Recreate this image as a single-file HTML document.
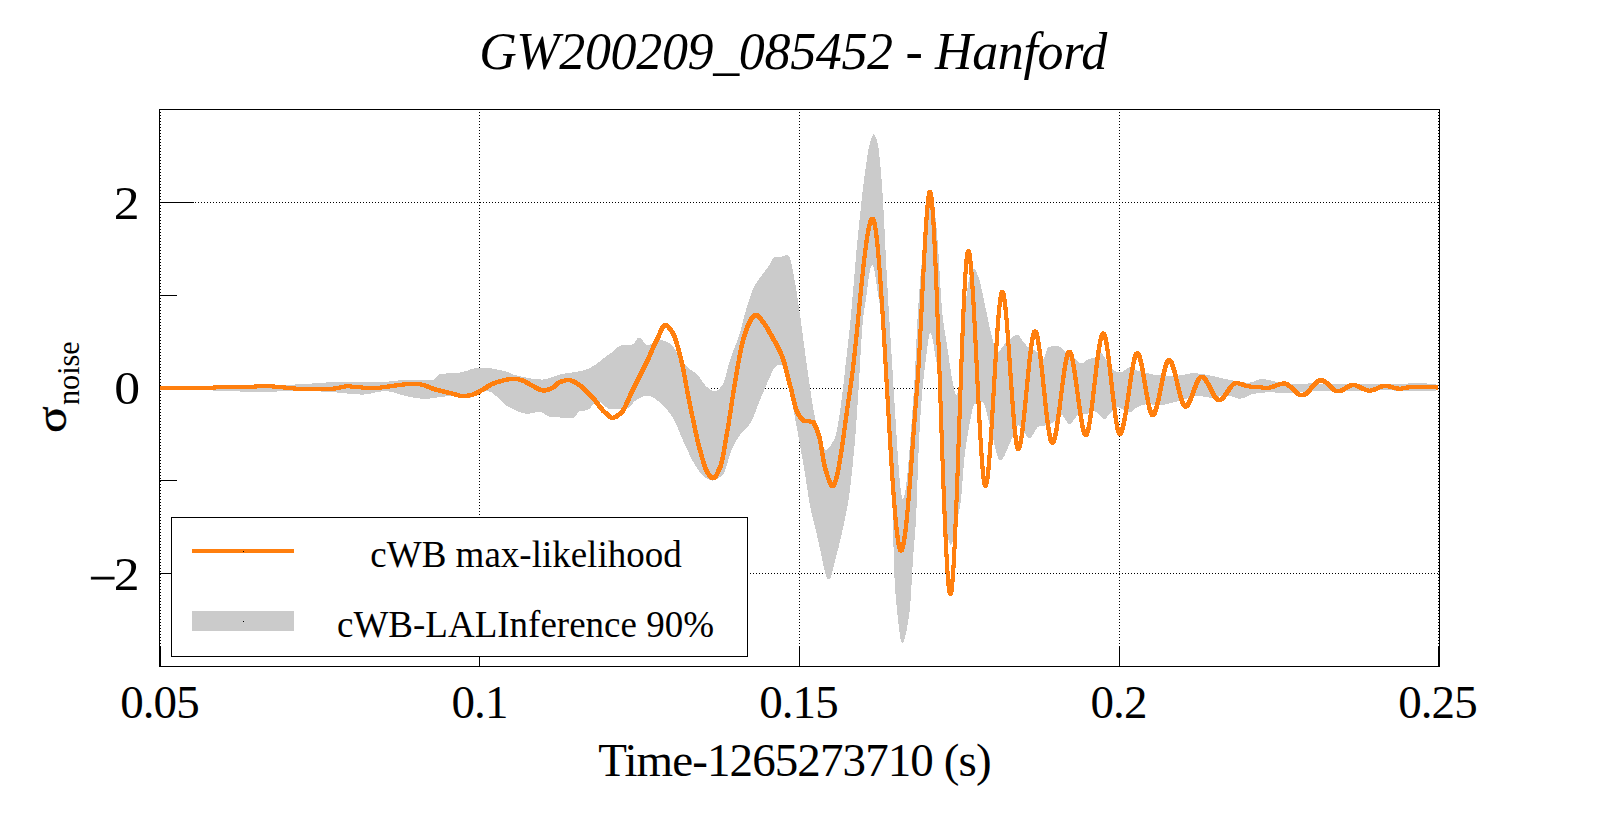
<!DOCTYPE html>
<html><head><meta charset="utf-8"><title>GW200209_085452 - Hanford</title>
<style>
html,body{margin:0;padding:0;background:#fff;}
body{width:1599px;height:813px;overflow:hidden;}
svg{display:block;}
text{font-family:"Liberation Serif","DejaVu Serif",serif;fill:#000;}
.lab{font-size:47px;letter-spacing:-0.9px;}
.leg{font-size:37px;}
</style></head>
<body>
<svg width="1599" height="813" viewBox="0 0 1599 813">
<rect x="0" y="0" width="1599" height="813" fill="#fff"/>
<!-- grid -->
<g stroke="#000" stroke-width="1" stroke-dasharray="1,2" shape-rendering="crispEdges" fill="none">
<line x1="160.5" y1="109" x2="160.5" y2="666" stroke-dashoffset="0"/>
<line x1="479.5" y1="109" x2="479.5" y2="666"/>
<line x1="799.5" y1="109" x2="799.5" y2="666"/>
<line x1="1119.5" y1="109" x2="1119.5" y2="666"/>
<line x1="1438.5" y1="109" x2="1438.5" y2="666"/>
<line x1="159" y1="202.5" x2="1440" y2="202.5"/>
<line x1="159" y1="388.5" x2="1440" y2="388.5"/>
<line x1="159" y1="573.5" x2="1440" y2="573.5"/>
</g>
<!-- frame + ticks -->
<g stroke="#000" stroke-width="1" shape-rendering="crispEdges" fill="none">
<rect x="159.5" y="109.5" width="1280" height="557"/>
<line x1="159" y1="202.5" x2="194" y2="202.5"/>
<line x1="159" y1="388.5" x2="194" y2="388.5"/>
<line x1="159" y1="573.5" x2="194" y2="573.5"/>
<line x1="159" y1="295.5" x2="177" y2="295.5"/>
<line x1="159" y1="480.5" x2="177" y2="480.5"/>
<line x1="160.5" y1="646" x2="160.5" y2="666"/>
<line x1="479.5" y1="646" x2="479.5" y2="666"/>
<line x1="799.5" y1="646" x2="799.5" y2="666"/>
<line x1="1119.5" y1="646" x2="1119.5" y2="666"/>
<line x1="1438.5" y1="646" x2="1438.5" y2="666"/>
</g>
<!-- band -->
<path d="M160.0,387.5L161.0,387.5L162.0,387.5L163.0,387.5L164.0,387.5L165.0,387.5L166.0,387.5L167.0,387.4L168.0,387.4L169.0,387.4L170.0,387.4L171.0,387.4L172.0,387.4L173.0,387.4L174.0,387.4L175.0,387.4L176.0,387.4L177.0,387.3L178.0,387.3L179.0,387.3L180.0,387.3L181.0,387.3L182.0,387.3L183.0,387.3L184.0,387.2L185.0,387.2L186.0,387.2L187.0,387.2L188.0,387.2L189.0,387.2L190.0,387.2L191.0,387.1L192.0,387.1L193.0,387.1L194.0,387.1L195.0,387.1L196.0,387.1L197.0,387.0L198.0,387.0L199.0,387.0L200.0,387.0L201.0,387.0L202.0,387.0L203.0,386.9L204.0,386.9L205.0,386.9L206.0,386.9L207.0,386.9L208.0,386.8L209.0,386.8L210.0,386.8L211.0,386.8L212.0,386.7L213.0,386.7L214.0,386.7L215.0,386.7L216.0,386.6L217.0,386.6L218.0,386.6L219.0,386.6L220.0,386.5L221.0,386.5L222.0,386.5L223.0,386.5L224.0,386.5L225.0,386.4L226.0,386.4L227.0,386.4L228.0,386.4L229.0,386.3L230.0,386.3L231.0,386.3L232.0,386.3L233.0,386.3L234.0,386.2L235.0,386.2L236.0,386.2L237.0,386.2L238.0,386.1L239.0,386.1L240.0,386.1L241.0,386.1L242.0,386.1L243.0,386.0L244.0,386.0L245.0,386.0L246.0,386.0L247.0,386.0L248.0,385.9L249.0,385.9L250.0,385.9L251.0,385.9L252.0,385.8L253.0,385.8L254.0,385.8L255.0,385.8L256.0,385.7L257.0,385.7L258.0,385.7L259.0,385.7L260.0,385.6L261.0,385.6L262.0,385.6L263.0,385.6L264.0,385.5L265.0,385.5L266.0,385.5L267.0,385.4L268.0,385.4L269.0,385.4L270.0,385.4L271.0,385.3L272.0,385.3L273.0,385.3L274.0,385.2L275.0,385.2L276.0,385.2L277.0,385.1L278.0,385.1L279.0,385.1L280.0,385.0L281.0,385.0L282.0,385.0L283.0,384.9L284.0,384.9L285.0,384.9L286.0,384.8L287.0,384.8L288.0,384.7L289.0,384.7L290.0,384.7L291.0,384.6L292.0,384.6L293.0,384.5L294.0,384.5L295.0,384.5L296.0,384.4L297.0,384.4L298.0,384.3L299.0,384.3L300.0,384.2L301.0,384.2L302.0,384.2L303.0,384.1L304.0,384.0L305.0,384.0L306.0,383.9L307.0,383.9L308.0,383.8L309.0,383.7L310.0,383.7L311.0,383.6L312.0,383.5L313.0,383.4L314.0,383.4L315.0,383.3L316.0,383.2L317.0,383.1L318.0,383.1L319.0,383.0L320.0,382.9L321.0,382.8L322.0,382.8L323.0,382.7L324.0,382.6L325.0,382.6L326.0,382.5L327.0,382.4L328.0,382.4L329.0,382.3L330.0,382.3L331.0,382.2L332.0,382.2L333.0,382.1L334.0,382.1L335.0,382.1L336.0,382.0L337.0,382.0L338.0,382.0L339.0,382.0L340.0,382.0L341.0,382.0L342.0,382.0L343.0,382.0L344.0,382.0L345.0,382.0L346.0,382.0L347.0,382.0L348.0,382.0L349.0,382.0L350.0,382.0L351.0,382.0L352.0,382.0L353.0,382.0L354.0,382.0L355.0,382.0L356.0,382.0L357.0,382.0L358.0,382.0L359.0,382.0L360.0,382.0L361.0,382.0L362.0,382.0L363.0,382.0L364.0,382.0L365.0,382.0L366.0,382.0L367.0,382.0L368.0,382.0L369.0,382.0L370.0,382.0L371.0,382.0L372.0,382.0L373.0,382.0L374.0,382.0L375.0,382.0L376.0,382.0L377.0,382.0L378.0,382.0L379.0,382.0L380.0,382.0L381.0,382.0L382.0,382.0L383.0,381.9L384.0,381.9L385.0,381.8L386.0,381.8L387.0,381.7L388.0,381.6L389.0,381.5L390.0,381.4L391.0,381.3L392.0,381.2L393.0,381.1L394.0,381.0L395.0,380.9L396.0,380.8L397.0,380.7L398.0,380.5L399.0,380.4L400.0,380.3L401.0,380.2L402.0,380.1L403.0,380.0L404.0,379.9L405.0,379.8L406.0,379.8L407.0,379.7L408.0,379.6L409.0,379.6L410.0,379.5L411.0,379.5L412.0,379.5L413.0,379.5L414.0,379.5L415.0,379.5L416.0,379.5L417.0,379.6L418.0,379.6L419.0,379.6L420.0,379.7L421.0,379.7L422.0,379.7L423.0,379.8L424.0,379.8L425.0,379.8L426.0,379.9L427.0,379.9L428.0,379.9L429.0,380.0L430.0,380.0L431.0,380.0L432.0,380.0L433.0,379.9L434.0,379.4L435.0,378.6L436.0,377.6L437.0,376.5L438.0,375.5L439.0,374.7L440.0,374.2L441.0,374.1L442.0,373.9L443.0,373.8L444.0,373.7L445.0,373.6L446.0,373.5L447.0,373.4L448.0,373.4L449.0,373.3L450.0,373.3L451.0,373.2L452.0,373.1L453.0,373.1L454.0,373.0L455.0,373.0L456.0,372.9L457.0,372.8L458.0,372.7L459.0,372.6L460.0,372.5L461.0,372.3L462.0,372.2L463.0,371.9L464.0,371.6L465.0,371.4L466.0,371.0L467.0,370.7L468.0,370.4L469.0,370.0L470.0,369.7L471.0,369.3L472.0,369.0L473.0,368.7L474.0,368.4L475.0,368.2L476.0,367.9L477.0,367.8L478.0,367.6L479.0,367.5L480.0,367.5L481.0,367.5L482.0,367.5L483.0,367.6L484.0,367.6L485.0,367.7L486.0,367.8L487.0,367.9L488.0,368.0L489.0,368.1L490.0,368.3L491.0,368.4L492.0,368.6L493.0,368.7L494.0,368.9L495.0,369.1L496.0,369.3L497.0,369.5L498.0,369.7L499.0,369.9L500.0,370.1L501.0,370.3L502.0,370.6L503.0,370.8L504.0,371.0L505.0,371.2L506.0,371.5L507.0,371.9L508.0,372.2L509.0,372.7L510.0,373.1L511.0,373.5L512.0,374.0L513.0,374.4L514.0,374.7L515.0,375.0L516.0,375.2L517.0,375.5L518.0,375.7L519.0,376.0L520.0,376.2L521.0,376.4L522.0,376.7L523.0,376.9L524.0,377.1L525.0,377.3L526.0,377.5L527.0,377.7L528.0,377.9L529.0,378.1L530.0,378.3L531.0,378.5L532.0,378.6L533.0,378.8L534.0,378.9L535.0,379.0L536.0,379.1L537.0,379.2L538.0,379.3L539.0,379.4L540.0,379.4L541.0,379.5L542.0,379.5L543.0,379.5L544.0,379.4L545.0,379.3L546.0,379.1L547.0,378.9L548.0,378.6L549.0,378.3L550.0,377.9L551.0,377.6L552.0,377.2L553.0,376.8L554.0,376.4L555.0,376.1L556.0,375.7L557.0,375.4L558.0,375.0L559.0,374.7L560.0,374.5L561.0,374.3L562.0,374.1L563.0,373.9L564.0,373.7L565.0,373.5L566.0,373.4L567.0,373.2L568.0,373.1L569.0,372.9L570.0,372.8L571.0,372.6L572.0,372.5L573.0,372.4L574.0,372.2L575.0,372.1L576.0,371.9L577.0,371.7L578.0,371.6L579.0,371.4L580.0,371.2L581.0,371.0L582.0,370.8L583.0,370.5L584.0,370.3L585.0,370.0L586.0,369.7L587.0,369.3L588.0,368.9L589.0,368.5L590.0,367.9L591.0,367.4L592.0,366.8L593.0,366.2L594.0,365.6L595.0,364.9L596.0,364.2L597.0,363.5L598.0,362.7L599.0,362.0L600.0,361.2L601.0,360.5L602.0,359.7L603.0,358.9L604.0,358.1L605.0,357.4L606.0,356.6L607.0,355.9L608.0,355.1L609.0,354.4L610.0,353.8L611.0,353.0L612.0,352.2L613.0,351.4L614.0,350.5L615.0,349.6L616.0,348.7L617.0,347.8L618.0,347.1L619.0,346.4L620.0,345.8L621.0,345.3L622.0,345.1L623.0,345.0L624.0,344.9L625.0,344.8L626.0,344.8L627.0,344.8L628.0,344.8L629.0,344.7L630.0,344.7L631.0,344.6L632.0,344.5L633.0,344.3L634.0,343.4L635.0,341.9L636.0,340.3L637.0,338.8L638.0,337.8L639.0,337.5L640.0,337.9L641.0,338.7L642.0,339.8L643.0,341.1L644.0,342.4L645.0,343.5L646.0,344.4L647.0,344.9L648.0,345.0L649.0,344.8L650.0,344.5L651.0,344.0L652.0,343.5L653.0,342.9L654.0,342.4L655.0,341.8L656.0,341.2L657.0,340.7L658.0,340.3L659.0,340.1L660.0,340.0L661.0,340.1L662.0,340.2L663.0,340.5L664.0,340.8L665.0,341.2L666.0,341.6L667.0,342.1L668.0,342.6L669.0,343.2L670.0,343.8L671.0,344.5L672.0,345.4L673.0,346.6L674.0,347.9L675.0,349.4L676.0,351.0L677.0,352.7L678.0,354.4L679.0,356.2L680.0,357.9L681.0,359.5L682.0,361.1L683.0,362.6L684.0,363.9L685.0,365.0L686.0,366.0L687.0,366.9L688.0,367.7L689.0,368.4L690.0,369.2L691.0,369.9L692.0,370.6L693.0,371.3L694.0,372.0L695.0,372.8L696.0,373.6L697.0,374.5L698.0,375.5L699.0,376.7L700.0,378.0L701.0,379.4L702.0,380.9L703.0,382.3L704.0,383.7L705.0,385.0L706.0,386.2L707.0,387.1L708.0,387.9L709.0,388.6L710.0,389.2L711.0,389.9L712.0,390.4L713.0,390.9L714.0,391.1L715.0,391.2L716.0,391.1L717.0,390.7L718.0,390.0L719.0,389.1L720.0,388.1L721.0,386.9L722.0,385.7L723.0,384.2L724.0,381.8L725.0,378.7L726.0,375.1L727.0,371.1L728.0,367.1L729.0,363.3L730.0,360.0L731.0,357.1L732.0,354.3L733.0,351.6L734.0,349.0L735.0,346.5L736.0,343.9L737.0,341.3L738.0,338.5L739.0,335.6L740.0,332.5L741.0,329.1L742.0,325.3L743.0,321.3L744.0,317.3L745.0,313.5L746.0,310.0L747.0,306.7L748.0,303.5L749.0,300.3L750.0,297.2L751.0,294.3L752.0,291.6L753.0,289.2L754.0,287.0L755.0,285.1L756.0,283.4L757.0,281.9L758.0,280.4L759.0,279.0L760.0,277.6L761.0,276.2L762.0,274.9L763.0,273.5L764.0,272.3L765.0,271.0L766.0,269.7L767.0,268.4L768.0,267.0L769.0,265.4L770.0,263.7L771.0,261.8L772.0,260.1L773.0,258.6L774.0,257.5L775.0,257.0L776.0,256.9L777.0,256.8L778.0,256.8L779.0,256.7L780.0,256.7L781.0,256.6L782.0,256.5L783.0,256.2L784.0,255.8L785.0,255.3L786.0,255.0L787.0,255.1L788.0,255.6L789.0,256.5L790.0,258.5L791.0,262.0L792.0,266.7L793.0,271.9L794.0,277.0L795.0,282.3L796.0,288.3L797.0,294.7L798.0,301.3L799.0,308.0L800.0,314.9L801.0,322.0L802.0,329.4L803.0,337.0L804.0,344.6L805.0,352.1L806.0,359.5L807.0,366.6L808.0,373.4L809.0,380.4L810.0,387.4L811.0,394.3L812.0,400.9L813.0,407.1L814.0,412.7L815.0,417.5L816.0,421.6L817.0,425.3L818.0,428.6L819.0,431.8L820.0,435.0L821.0,438.6L822.0,442.6L823.0,446.3L824.0,449.0L825.0,450.0L826.0,449.8L827.0,449.4L828.0,448.6L829.0,447.7L830.0,446.4L831.0,445.0L832.0,443.3L833.0,441.5L834.0,439.6L835.0,437.5L836.0,434.6L837.0,430.2L838.0,424.7L839.0,418.3L840.0,411.3L841.0,403.8L842.0,396.3L843.0,388.5L844.0,379.4L845.0,370.0L846.0,361.2L847.0,352.5L848.0,343.7L849.0,334.6L850.0,325.0L851.0,314.6L852.0,303.3L853.0,291.6L854.0,279.6L855.0,267.7L856.0,256.1L857.0,245.1L858.0,235.0L859.0,225.1L860.0,215.3L861.0,205.8L862.0,196.7L863.0,188.1L864.0,180.0L865.0,172.5L866.0,165.3L867.0,158.3L868.0,151.9L869.0,146.5L870.0,142.5L871.0,139.4L872.0,136.6L873.0,134.7L874.0,134.3L875.0,135.4L876.0,137.7L877.0,140.8L878.0,144.7L879.0,151.7L880.0,161.3L881.0,173.0L882.0,185.8L883.0,200.0L884.0,218.6L885.0,239.6L886.0,260.2L887.0,278.9L888.0,297.0L889.0,314.2L890.0,330.4L891.0,346.0L892.0,361.8L893.0,378.8L894.0,394.8L895.0,410.6L896.0,426.8L897.0,442.9L898.0,458.2L899.0,472.0L900.0,483.7L901.0,492.5L902.0,498.0L903.0,499.3L904.0,497.5L905.0,493.1L906.0,486.5L907.0,478.1L908.0,468.0L909.0,456.5L910.0,444.0L911.0,430.7L912.0,416.9L913.0,402.8L914.0,388.8L915.0,371.5L916.0,350.0L917.0,328.2L918.0,310.0L919.0,295.5L920.0,282.2L921.0,270.2L922.0,259.4L923.0,250.0L924.0,241.0L925.0,231.9L926.0,223.0L927.0,214.8L928.0,207.6L929.0,202.0L930.0,198.3L931.0,197.0L932.0,198.5L933.0,202.2L934.0,207.3L935.0,213.3L936.0,222.6L937.0,234.1L938.0,246.5L939.0,262.0L940.0,279.1L941.0,295.8L942.0,309.7L943.0,319.3L944.0,326.7L945.0,332.9L946.0,338.8L947.0,345.0L948.0,351.9L949.0,359.0L950.0,366.1L951.0,372.7L952.0,378.5L953.0,383.4L954.0,388.4L955.0,392.6L956.0,394.9L957.0,394.3L958.0,391.1L959.0,386.1L960.0,380.0L961.0,369.1L962.0,352.4L963.0,334.4L964.0,320.0L965.0,309.4L966.0,299.8L967.0,291.6L968.0,285.0L969.0,279.5L970.0,274.9L971.0,272.0L972.0,270.4L973.0,269.2L974.0,268.8L975.0,269.4L976.0,270.9L977.0,273.2L978.0,275.8L979.0,278.6L980.0,281.9L981.0,286.1L982.0,290.9L983.0,295.8L984.0,300.7L985.0,305.3L986.0,310.0L987.0,314.9L988.0,319.7L989.0,324.4L990.0,328.8L991.0,333.1L992.0,337.4L993.0,341.2L994.0,344.4L995.0,347.4L996.0,350.1L997.0,351.8L998.0,351.9L999.0,351.4L1000.0,350.4L1001.0,349.2L1002.0,347.8L1003.0,346.3L1004.0,344.9L1005.0,343.8L1006.0,342.8L1007.0,341.8L1008.0,340.8L1009.0,339.9L1010.0,339.0L1011.0,338.1L1012.0,337.3L1013.0,336.6L1014.0,335.9L1015.0,335.2L1016.0,334.7L1017.0,334.4L1018.0,334.7L1019.0,335.7L1020.0,337.1L1021.0,338.6L1022.0,340.0L1023.0,341.2L1024.0,342.6L1025.0,343.9L1026.0,345.1L1027.0,346.2L1028.0,347.0L1029.0,347.7L1030.0,348.2L1031.0,348.8L1032.0,349.2L1033.0,349.7L1034.0,350.2L1035.0,350.7L1036.0,351.3L1037.0,352.0L1038.0,353.0L1039.0,354.3L1040.0,355.7L1041.0,357.0L1042.0,358.1L1043.0,358.7L1044.0,358.4L1045.0,356.0L1046.0,352.5L1047.0,349.2L1048.0,347.5L1049.0,347.0L1050.0,346.7L1051.0,346.4L1052.0,346.2L1053.0,346.0L1054.0,346.0L1055.0,346.0L1056.0,346.1L1057.0,346.2L1058.0,346.3L1059.0,346.5L1060.0,346.8L1061.0,347.5L1062.0,348.6L1063.0,349.8L1064.0,351.0L1065.0,352.0L1066.0,352.7L1067.0,353.4L1068.0,354.0L1069.0,354.5L1070.0,355.1L1071.0,355.6L1072.0,356.2L1073.0,356.8L1074.0,357.4L1075.0,358.2L1076.0,359.2L1077.0,360.4L1078.0,361.5L1079.0,362.5L1080.0,363.2L1081.0,363.5L1082.0,363.3L1083.0,362.9L1084.0,362.3L1085.0,361.6L1086.0,360.9L1087.0,360.1L1088.0,359.5L1089.0,359.0L1090.0,358.7L1091.0,358.5L1092.0,358.3L1093.0,358.2L1094.0,358.1L1095.0,357.9L1096.0,357.7L1097.0,357.2L1098.0,356.2L1099.0,354.8L1100.0,353.7L1101.0,353.2L1102.0,353.8L1103.0,355.1L1104.0,356.5L1105.0,357.9L1106.0,359.4L1107.0,361.0L1108.0,362.7L1109.0,364.6L1110.0,366.4L1111.0,367.9L1112.0,369.0L1113.0,369.7L1114.0,370.4L1115.0,371.1L1116.0,371.6L1117.0,372.1L1118.0,372.4L1119.0,372.5L1120.0,372.4L1121.0,372.2L1122.0,371.8L1123.0,371.3L1124.0,370.7L1125.0,370.0L1126.0,369.4L1127.0,368.8L1128.0,368.2L1129.0,367.5L1130.0,366.8L1131.0,366.5L1132.0,366.8L1133.0,367.5L1134.0,368.5L1135.0,369.4L1136.0,370.0L1137.0,370.4L1138.0,370.8L1139.0,371.1L1140.0,371.4L1141.0,371.6L1142.0,371.9L1143.0,372.1L1144.0,372.4L1145.0,372.6L1146.0,372.9L1147.0,373.1L1148.0,373.4L1149.0,373.6L1150.0,373.9L1151.0,374.1L1152.0,374.3L1153.0,374.5L1154.0,374.7L1155.0,374.8L1156.0,375.0L1157.0,375.1L1158.0,375.2L1159.0,375.3L1160.0,375.3L1161.0,375.4L1162.0,375.4L1163.0,375.4L1164.0,375.5L1165.0,375.5L1166.0,375.5L1167.0,375.6L1168.0,375.6L1169.0,375.6L1170.0,375.6L1171.0,375.7L1172.0,375.7L1173.0,375.7L1174.0,375.7L1175.0,375.7L1176.0,375.7L1177.0,375.7L1178.0,375.6L1179.0,375.6L1180.0,375.4L1181.0,375.3L1182.0,375.1L1183.0,374.9L1184.0,374.7L1185.0,374.5L1186.0,374.2L1187.0,374.0L1188.0,373.8L1189.0,373.6L1190.0,373.5L1191.0,373.4L1192.0,373.3L1193.0,373.2L1194.0,373.2L1195.0,373.2L1196.0,373.3L1197.0,373.4L1198.0,373.5L1199.0,373.6L1200.0,373.7L1201.0,373.9L1202.0,374.1L1203.0,374.2L1204.0,374.4L1205.0,374.6L1206.0,374.8L1207.0,375.0L1208.0,375.2L1209.0,375.4L1210.0,375.6L1211.0,375.8L1212.0,376.0L1213.0,376.2L1214.0,376.4L1215.0,376.6L1216.0,376.8L1217.0,377.1L1218.0,377.3L1219.0,377.6L1220.0,377.8L1221.0,378.1L1222.0,378.3L1223.0,378.5L1224.0,378.8L1225.0,379.0L1226.0,379.2L1227.0,379.4L1228.0,379.6L1229.0,379.8L1230.0,380.0L1231.0,380.2L1232.0,380.4L1233.0,380.6L1234.0,380.8L1235.0,381.0L1236.0,381.2L1237.0,381.4L1238.0,381.5L1239.0,381.7L1240.0,381.9L1241.0,382.0L1242.0,382.2L1243.0,382.3L1244.0,382.4L1245.0,382.5L1246.0,382.6L1247.0,382.7L1248.0,382.7L1249.0,382.7L1250.0,382.6L1251.0,382.4L1252.0,382.1L1253.0,381.8L1254.0,381.4L1255.0,381.0L1256.0,380.6L1257.0,380.2L1258.0,379.8L1259.0,379.5L1260.0,379.3L1261.0,379.1L1262.0,379.1L1263.0,379.1L1264.0,379.2L1265.0,379.4L1266.0,379.5L1267.0,379.7L1268.0,379.9L1269.0,380.1L1270.0,380.4L1271.0,380.6L1272.0,380.8L1273.0,381.1L1274.0,381.3L1275.0,381.5L1276.0,381.6L1277.0,381.8L1278.0,381.9L1279.0,382.1L1280.0,382.2L1281.0,382.4L1282.0,382.5L1283.0,382.6L1284.0,382.8L1285.0,382.9L1286.0,383.1L1287.0,383.2L1288.0,383.3L1289.0,383.4L1290.0,383.5L1291.0,383.6L1292.0,383.7L1293.0,383.7L1294.0,383.8L1295.0,383.8L1296.0,383.8L1297.0,383.8L1298.0,383.8L1299.0,383.8L1300.0,383.7L1301.0,383.7L1302.0,383.7L1303.0,383.6L1304.0,383.6L1305.0,383.6L1306.0,383.5L1307.0,383.5L1308.0,383.5L1309.0,383.4L1310.0,383.4L1311.0,383.4L1312.0,383.4L1313.0,383.4L1314.0,383.4L1315.0,383.4L1316.0,383.4L1317.0,383.4L1318.0,383.4L1319.0,383.5L1320.0,383.5L1321.0,383.5L1322.0,383.5L1323.0,383.5L1324.0,383.6L1325.0,383.6L1326.0,383.6L1327.0,383.6L1328.0,383.7L1329.0,383.7L1330.0,383.7L1331.0,383.7L1332.0,383.8L1333.0,383.8L1334.0,383.8L1335.0,383.8L1336.0,383.8L1337.0,383.9L1338.0,383.9L1339.0,383.9L1340.0,383.9L1341.0,384.0L1342.0,384.0L1343.0,384.0L1344.0,384.0L1345.0,384.1L1346.0,384.1L1347.0,384.1L1348.0,384.1L1349.0,384.2L1350.0,384.2L1351.0,384.2L1352.0,384.2L1353.0,384.2L1354.0,384.3L1355.0,384.3L1356.0,384.3L1357.0,384.3L1358.0,384.3L1359.0,384.4L1360.0,384.4L1361.0,384.4L1362.0,384.4L1363.0,384.4L1364.0,384.4L1365.0,384.4L1366.0,384.4L1367.0,384.4L1368.0,384.4L1369.0,384.4L1370.0,384.4L1371.0,384.4L1372.0,384.4L1373.0,384.4L1374.0,384.4L1375.0,384.4L1376.0,384.4L1377.0,384.4L1378.0,384.4L1379.0,384.4L1380.0,384.4L1381.0,384.4L1382.0,384.4L1383.0,384.4L1384.0,384.4L1385.0,384.4L1386.0,384.4L1387.0,384.4L1388.0,384.4L1389.0,384.4L1390.0,384.4L1391.0,384.4L1392.0,384.4L1393.0,384.4L1394.0,384.4L1395.0,384.4L1396.0,384.4L1397.0,384.4L1398.0,384.4L1399.0,384.4L1400.0,384.4L1401.0,384.4L1402.0,384.3L1403.0,384.2L1404.0,384.1L1405.0,383.9L1406.0,383.8L1407.0,383.6L1408.0,383.5L1409.0,383.4L1410.0,383.2L1411.0,383.2L1412.0,383.1L1413.0,383.1L1414.0,383.1L1415.0,383.1L1416.0,383.1L1417.0,383.1L1418.0,383.1L1419.0,383.2L1420.0,383.2L1421.0,383.2L1422.0,383.2L1423.0,383.3L1424.0,383.3L1425.0,383.4L1426.0,383.4L1427.0,383.5L1428.0,383.6L1429.0,383.7L1430.0,383.8L1431.0,383.9L1432.0,384.0L1433.0,384.1L1434.0,384.2L1435.0,384.4L1436.0,384.6L1437.0,384.7L1438.0,384.9L1438.0,390.2L1437.0,390.3L1436.0,390.5L1435.0,390.7L1434.0,390.8L1433.0,391.0L1432.0,391.1L1431.0,391.2L1430.0,391.2L1429.0,391.2L1428.0,391.2L1427.0,391.2L1426.0,391.2L1425.0,391.2L1424.0,391.2L1423.0,391.2L1422.0,391.1L1421.0,391.1L1420.0,391.1L1419.0,391.1L1418.0,391.1L1417.0,391.1L1416.0,391.0L1415.0,391.0L1414.0,391.0L1413.0,391.0L1412.0,390.9L1411.0,390.9L1410.0,390.9L1409.0,390.9L1408.0,390.8L1407.0,390.8L1406.0,390.8L1405.0,390.8L1404.0,390.7L1403.0,390.7L1402.0,390.7L1401.0,390.6L1400.0,390.6L1399.0,390.6L1398.0,390.6L1397.0,390.5L1396.0,390.5L1395.0,390.5L1394.0,390.5L1393.0,390.4L1392.0,390.4L1391.0,390.4L1390.0,390.4L1389.0,390.3L1388.0,390.3L1387.0,390.3L1386.0,390.3L1385.0,390.3L1384.0,390.3L1383.0,390.2L1382.0,390.2L1381.0,390.2L1380.0,390.2L1379.0,390.2L1378.0,390.2L1377.0,390.2L1376.0,390.2L1375.0,390.2L1374.0,390.2L1373.0,390.2L1372.0,390.2L1371.0,390.2L1370.0,390.3L1369.0,390.3L1368.0,390.3L1367.0,390.3L1366.0,390.4L1365.0,390.4L1364.0,390.4L1363.0,390.4L1362.0,390.5L1361.0,390.5L1360.0,390.5L1359.0,390.6L1358.0,390.6L1357.0,390.6L1356.0,390.7L1355.0,390.7L1354.0,390.7L1353.0,390.8L1352.0,390.8L1351.0,390.8L1350.0,390.9L1349.0,390.9L1348.0,390.9L1347.0,391.0L1346.0,391.0L1345.0,391.0L1344.0,391.1L1343.0,391.1L1342.0,391.1L1341.0,391.1L1340.0,391.1L1339.0,391.2L1338.0,391.2L1337.0,391.2L1336.0,391.2L1335.0,391.2L1334.0,391.2L1333.0,391.2L1332.0,391.2L1331.0,391.2L1330.0,391.2L1329.0,391.2L1328.0,391.2L1327.0,391.2L1326.0,391.2L1325.0,391.2L1324.0,391.2L1323.0,391.2L1322.0,391.2L1321.0,391.2L1320.0,391.2L1319.0,391.2L1318.0,391.2L1317.0,391.2L1316.0,391.2L1315.0,391.2L1314.0,391.2L1313.0,391.2L1312.0,391.2L1311.0,391.2L1310.0,391.3L1309.0,391.4L1308.0,391.5L1307.0,391.6L1306.0,391.7L1305.0,391.8L1304.0,392.0L1303.0,392.1L1302.0,392.3L1301.0,392.4L1300.0,392.6L1299.0,392.7L1298.0,392.9L1297.0,393.0L1296.0,393.1L1295.0,393.2L1294.0,393.3L1293.0,393.3L1292.0,393.4L1291.0,393.4L1290.0,393.4L1289.0,393.4L1288.0,393.3L1287.0,393.3L1286.0,393.2L1285.0,393.2L1284.0,393.1L1283.0,393.0L1282.0,393.0L1281.0,392.9L1280.0,392.8L1279.0,392.7L1278.0,392.7L1277.0,392.6L1276.0,392.5L1275.0,392.5L1274.0,392.4L1273.0,392.4L1272.0,392.3L1271.0,392.3L1270.0,392.3L1269.0,392.3L1268.0,392.3L1267.0,392.4L1266.0,392.4L1265.0,392.5L1264.0,392.6L1263.0,392.7L1262.0,392.8L1261.0,392.9L1260.0,393.0L1259.0,393.1L1258.0,393.2L1257.0,393.4L1256.0,393.5L1255.0,393.7L1254.0,393.8L1253.0,394.0L1252.0,394.2L1251.0,394.5L1250.0,394.9L1249.0,395.4L1248.0,395.9L1247.0,396.4L1246.0,396.9L1245.0,397.3L1244.0,397.8L1243.0,398.2L1242.0,398.4L1241.0,398.6L1240.0,398.7L1239.0,398.6L1238.0,398.5L1237.0,398.2L1236.0,397.9L1235.0,397.6L1234.0,397.2L1233.0,396.8L1232.0,396.4L1231.0,396.1L1230.0,395.8L1229.0,395.6L1228.0,395.5L1227.0,395.5L1226.0,395.6L1225.0,395.6L1224.0,395.7L1223.0,395.9L1222.0,396.0L1221.0,396.2L1220.0,396.4L1219.0,396.6L1218.0,396.8L1217.0,396.9L1216.0,397.1L1215.0,397.3L1214.0,397.4L1213.0,397.5L1212.0,397.6L1211.0,397.6L1210.0,397.6L1209.0,397.5L1208.0,397.4L1207.0,397.3L1206.0,397.1L1205.0,396.9L1204.0,396.7L1203.0,396.5L1202.0,396.3L1201.0,396.1L1200.0,395.9L1199.0,395.8L1198.0,395.6L1197.0,395.5L1196.0,395.5L1195.0,395.6L1194.0,395.8L1193.0,396.2L1192.0,396.7L1191.0,397.1L1190.0,397.5L1189.0,397.8L1188.0,398.1L1187.0,398.5L1186.0,398.8L1185.0,399.1L1184.0,399.4L1183.0,399.7L1182.0,400.0L1181.0,400.3L1180.0,400.6L1179.0,400.9L1178.0,401.2L1177.0,401.5L1176.0,401.8L1175.0,402.0L1174.0,402.3L1173.0,402.6L1172.0,402.8L1171.0,403.1L1170.0,403.3L1169.0,403.5L1168.0,403.8L1167.0,404.1L1166.0,404.4L1165.0,404.6L1164.0,404.8L1163.0,404.9L1162.0,405.0L1161.0,405.0L1160.0,405.0L1159.0,404.9L1158.0,404.9L1157.0,404.8L1156.0,404.8L1155.0,404.7L1154.0,404.6L1153.0,404.6L1152.0,404.5L1151.0,404.4L1150.0,404.4L1149.0,404.3L1148.0,404.3L1147.0,404.3L1146.0,404.3L1145.0,404.5L1144.0,404.7L1143.0,405.0L1142.0,405.3L1141.0,405.7L1140.0,406.0L1139.0,406.4L1138.0,406.8L1137.0,407.4L1136.0,407.9L1135.0,408.5L1134.0,409.3L1133.0,410.2L1132.0,411.2L1131.0,411.9L1130.0,412.2L1129.0,412.1L1128.0,411.8L1127.0,411.4L1126.0,410.9L1125.0,410.4L1124.0,410.0L1123.0,409.5L1122.0,408.9L1121.0,408.3L1120.0,407.7L1119.0,407.4L1118.0,407.2L1117.0,407.3L1116.0,407.8L1115.0,408.4L1114.0,409.2L1113.0,410.1L1112.0,411.1L1111.0,412.1L1110.0,413.0L1109.0,414.2L1108.0,415.7L1107.0,417.3L1106.0,418.6L1105.0,419.4L1104.0,419.4L1103.0,418.8L1102.0,417.7L1101.0,416.5L1100.0,415.4L1099.0,414.6L1098.0,413.7L1097.0,412.8L1096.0,412.1L1095.0,411.5L1094.0,411.3L1093.0,411.4L1092.0,411.8L1091.0,412.2L1090.0,412.7L1089.0,413.2L1088.0,413.5L1087.0,413.7L1086.0,413.9L1085.0,414.0L1084.0,414.1L1083.0,414.2L1082.0,414.3L1081.0,414.5L1080.0,414.6L1079.0,414.8L1078.0,415.1L1077.0,415.8L1076.0,416.9L1075.0,418.2L1074.0,419.7L1073.0,421.1L1072.0,422.4L1071.0,423.4L1070.0,423.9L1069.0,423.9L1068.0,423.2L1067.0,422.0L1066.0,420.4L1065.0,418.8L1064.0,417.2L1063.0,415.9L1062.0,415.1L1061.0,415.1L1060.0,415.7L1059.0,416.8L1058.0,418.1L1057.0,419.4L1056.0,420.5L1055.0,421.1L1054.0,421.8L1053.0,422.4L1052.0,423.0L1051.0,423.6L1050.0,424.1L1049.0,424.5L1048.0,424.9L1047.0,425.2L1046.0,425.4L1045.0,425.5L1044.0,425.6L1043.0,425.7L1042.0,425.8L1041.0,425.9L1040.0,426.1L1039.0,426.3L1038.0,426.8L1037.0,427.8L1036.0,429.3L1035.0,431.0L1034.0,432.8L1033.0,434.5L1032.0,436.1L1031.0,437.4L1030.0,438.1L1029.0,438.3L1028.0,437.6L1027.0,436.4L1026.0,434.9L1025.0,433.5L1024.0,432.0L1023.0,430.5L1022.0,429.0L1021.0,427.5L1020.0,426.1L1019.0,425.1L1018.0,425.2L1017.0,426.6L1016.0,428.8L1015.0,431.0L1014.0,433.2L1013.0,435.7L1012.0,438.2L1011.0,440.7L1010.0,443.0L1009.0,445.2L1008.0,447.5L1007.0,449.9L1006.0,452.3L1005.0,454.5L1004.0,456.5L1003.0,458.2L1002.0,459.5L1001.0,460.3L1000.0,460.5L999.0,459.6L998.0,457.6L997.0,454.7L996.0,451.1L995.0,447.0L994.0,442.6L993.0,438.1L992.0,433.7L991.0,429.6L990.0,426.0L989.0,422.3L988.0,418.2L987.0,413.9L986.0,409.8L985.0,406.2L984.0,403.5L983.0,402.1L982.0,402.0L981.0,402.1L980.0,402.2L979.0,402.4L978.0,402.7L977.0,403.0L976.0,403.4L975.0,403.8L974.0,405.0L973.0,407.7L972.0,411.4L971.0,416.1L970.0,421.3L969.0,427.0L968.0,432.8L967.0,438.5L966.0,445.2L965.0,453.0L964.0,461.9L963.0,473.7L962.0,488.6L961.0,500.0L960.0,506.4L959.0,511.4L958.0,515.7L957.0,520.0L956.0,525.0L955.0,530.5L954.0,535.9L953.0,540.6L952.0,543.8L951.0,545.0L950.0,544.3L949.0,542.1L948.0,538.5L947.0,533.6L946.0,527.4L945.0,520.0L944.0,499.0L943.0,465.4L942.0,437.9L941.0,413.4L940.0,390.8L939.0,374.5L938.0,367.5L937.0,364.0L936.0,359.6L935.0,353.8L934.0,347.4L933.0,341.2L932.0,336.2L931.0,333.1L930.0,332.8L929.0,336.2L928.0,342.2L927.0,349.8L926.0,357.9L925.0,365.5L924.0,373.8L923.0,383.4L922.0,394.7L921.0,407.9L920.0,423.3L919.0,441.1L918.0,465.0L917.0,495.5L916.0,520.0L915.0,534.5L914.0,546.0L913.0,558.9L912.0,575.8L911.0,593.6L910.0,608.0L909.0,616.0L908.0,622.5L907.0,628.3L906.0,633.4L905.0,637.6L904.0,640.8L903.0,642.8L902.0,643.5L901.0,641.4L900.0,636.0L899.0,628.2L898.0,619.1L897.0,609.8L896.0,600.1L895.0,587.3L894.0,568.5L893.0,525.1L892.0,480.0L891.0,453.3L890.0,432.6L889.0,415.6L888.0,400.0L887.0,385.6L886.0,373.1L885.0,361.6L884.0,350.0L883.0,337.6L882.0,325.3L881.0,314.5L880.0,306.2L879.0,299.9L878.0,293.9L877.0,287.1L876.0,280.1L875.0,273.7L874.0,268.5L873.0,265.2L872.0,264.6L871.0,266.7L870.0,270.0L869.0,275.4L868.0,283.2L867.0,291.7L866.0,299.0L865.0,304.8L864.0,311.0L863.0,319.3L862.0,331.1L861.0,346.1L860.0,364.8L859.0,381.5L858.0,397.7L857.0,413.2L856.0,427.4L855.0,440.0L854.0,451.2L853.0,461.8L852.0,471.7L851.0,480.8L850.0,489.2L849.0,496.6L848.0,503.2L847.0,508.9L846.0,514.0L845.0,518.8L844.0,523.5L843.0,528.1L842.0,532.7L841.0,537.1L840.0,541.4L839.0,545.6L838.0,549.6L837.0,553.4L836.0,557.1L835.0,561.1L834.0,565.3L833.0,569.5L832.0,573.3L831.0,576.4L830.0,578.7L829.0,579.7L828.0,579.3L827.0,577.8L826.0,575.3L825.0,572.0L824.0,568.1L823.0,563.6L822.0,558.9L821.0,553.9L820.0,548.9L819.0,544.1L818.0,539.6L817.0,535.5L816.0,531.5L815.0,527.5L814.0,523.5L813.0,519.3L812.0,514.9L811.0,510.3L810.0,505.4L809.0,500.0L808.0,493.4L807.0,486.8L806.0,480.5L805.0,474.4L804.0,468.3L803.0,462.3L802.0,456.5L801.0,450.7L800.0,445.0L799.0,439.4L798.0,433.9L797.0,428.5L796.0,423.2L795.0,418.0L794.0,412.8L793.0,407.6L792.0,402.3L791.0,396.6L790.0,390.6L789.0,384.9L788.0,379.6L787.0,375.4L786.0,372.5L785.0,370.5L784.0,368.6L783.0,366.9L782.0,365.6L781.0,364.8L780.0,364.5L779.0,364.7L778.0,365.1L777.0,365.8L776.0,366.6L775.0,367.5L774.0,368.6L773.0,370.2L772.0,372.2L771.0,374.4L770.0,376.7L769.0,379.1L768.0,381.4L767.0,383.6L766.0,385.8L765.0,388.1L764.0,390.5L763.0,392.8L762.0,395.2L761.0,397.6L760.0,400.0L759.0,402.4L758.0,405.0L757.0,407.6L756.0,410.3L755.0,412.9L754.0,415.5L753.0,417.9L752.0,420.1L751.0,422.1L750.0,423.8L749.0,425.2L748.0,426.4L747.0,427.6L746.0,428.6L745.0,429.6L744.0,430.6L743.0,431.5L742.0,432.6L741.0,433.7L740.0,435.0L739.0,436.4L738.0,437.8L737.0,439.4L736.0,441.0L735.0,442.7L734.0,444.6L733.0,446.5L732.0,448.6L731.0,451.2L730.0,454.3L729.0,457.6L728.0,461.0L727.0,464.3L726.0,467.5L725.0,470.4L724.0,472.7L723.0,474.4L722.0,475.5L721.0,476.3L720.0,477.1L719.0,477.9L718.0,478.6L717.0,479.2L716.0,479.7L715.0,480.1L714.0,480.3L713.0,480.5L712.0,480.5L711.0,480.3L710.0,480.1L709.0,479.7L708.0,479.2L707.0,478.7L706.0,478.1L705.0,477.5L704.0,476.8L703.0,475.9L702.0,474.9L701.0,473.7L700.0,472.4L699.0,471.0L698.0,469.6L697.0,468.1L696.0,466.5L695.0,465.0L694.0,463.4L693.0,461.6L692.0,459.7L691.0,457.8L690.0,455.7L689.0,453.6L688.0,451.4L687.0,449.3L686.0,447.1L685.0,445.0L684.0,442.8L683.0,440.6L682.0,438.2L681.0,435.8L680.0,433.4L679.0,431.0L678.0,428.6L677.0,426.3L676.0,424.1L675.0,422.0L674.0,420.1L673.0,418.3L672.0,416.7L671.0,415.2L670.0,413.8L669.0,412.4L668.0,411.0L667.0,409.7L666.0,408.5L665.0,407.3L664.0,406.2L663.0,405.2L662.0,404.2L661.0,403.3L660.0,402.5L659.0,401.7L658.0,400.9L657.0,400.2L656.0,399.4L655.0,398.7L654.0,398.0L653.0,397.3L652.0,396.8L651.0,396.3L650.0,395.9L649.0,395.7L648.0,395.5L647.0,395.5L646.0,395.6L645.0,395.8L644.0,396.1L643.0,396.5L642.0,396.9L641.0,397.4L640.0,397.9L639.0,398.5L638.0,399.1L637.0,399.7L636.0,400.4L635.0,401.0L634.0,401.8L633.0,402.9L632.0,404.2L631.0,405.4L630.0,406.6L629.0,407.5L628.0,408.0L627.0,408.3L626.0,408.5L625.0,408.8L624.0,408.9L623.0,409.0L622.0,409.0L621.0,409.0L620.0,409.0L619.0,409.0L618.0,409.0L617.0,409.0L616.0,409.0L615.0,409.0L614.0,409.0L613.0,409.0L612.0,409.0L611.0,409.0L610.0,409.0L609.0,408.9L608.0,408.5L607.0,407.9L606.0,407.1L605.0,406.3L604.0,405.4L603.0,404.4L602.0,403.5L601.0,402.7L600.0,402.1L599.0,401.6L598.0,401.3L597.0,401.3L596.0,401.7L595.0,402.5L594.0,403.5L593.0,404.7L592.0,405.9L591.0,407.1L590.0,408.3L589.0,409.2L588.0,409.8L587.0,410.1L586.0,410.3L585.0,410.5L584.0,410.6L583.0,410.7L582.0,410.8L581.0,411.0L580.0,411.2L579.0,411.8L578.0,412.7L577.0,413.9L576.0,415.2L575.0,416.4L574.0,417.4L573.0,417.9L572.0,418.0L571.0,418.0L570.0,418.0L569.0,417.9L568.0,417.9L567.0,417.9L566.0,417.8L565.0,417.8L564.0,417.7L563.0,417.7L562.0,417.6L561.0,417.6L560.0,417.5L559.0,417.4L558.0,417.4L557.0,417.3L556.0,417.3L555.0,417.2L554.0,417.1L553.0,417.1L552.0,417.0L551.0,416.9L550.0,416.8L549.0,416.5L548.0,416.1L547.0,415.5L546.0,414.9L545.0,414.2L544.0,413.5L543.0,412.9L542.0,412.5L541.0,412.1L540.0,412.0L539.0,412.0L538.0,412.1L537.0,412.3L536.0,412.4L535.0,412.6L534.0,412.8L533.0,413.0L532.0,413.2L531.0,413.4L530.0,413.6L529.0,413.7L528.0,413.7L527.0,413.7L526.0,413.7L525.0,413.6L524.0,413.4L523.0,413.2L522.0,412.9L521.0,412.6L520.0,412.3L519.0,411.9L518.0,411.5L517.0,411.0L516.0,410.6L515.0,410.1L514.0,409.6L513.0,409.1L512.0,408.6L511.0,408.0L510.0,407.5L509.0,407.0L508.0,406.5L507.0,406.0L506.0,405.4L505.0,404.6L504.0,403.8L503.0,403.0L502.0,402.0L501.0,401.0L500.0,400.0L499.0,399.0L498.0,398.0L497.0,397.0L496.0,396.0L495.0,395.1L494.0,394.3L493.0,393.5L492.0,392.8L491.0,392.2L490.0,391.8L489.0,391.4L488.0,391.3L487.0,391.3L486.0,391.4L485.0,391.5L484.0,391.8L483.0,392.1L482.0,392.5L481.0,392.9L480.0,393.4L479.0,393.9L478.0,394.4L477.0,394.9L476.0,395.4L475.0,395.9L474.0,396.3L473.0,396.7L472.0,397.1L471.0,397.5L470.0,397.7L469.0,397.9L468.0,398.0L467.0,398.0L466.0,398.0L465.0,397.9L464.0,397.8L463.0,397.7L462.0,397.6L461.0,397.5L460.0,397.3L459.0,397.2L458.0,397.0L457.0,396.9L456.0,396.7L455.0,396.6L454.0,396.5L453.0,396.4L452.0,396.3L451.0,396.3L450.0,396.2L449.0,396.3L448.0,396.3L447.0,396.3L446.0,396.4L445.0,396.5L444.0,396.6L443.0,396.7L442.0,396.9L441.0,397.0L440.0,397.1L439.0,397.3L438.0,397.4L437.0,397.6L436.0,397.7L435.0,397.9L434.0,398.0L433.0,398.1L432.0,398.3L431.0,398.4L430.0,398.5L429.0,398.6L428.0,398.7L427.0,398.7L426.0,398.7L425.0,398.8L424.0,398.7L423.0,398.7L422.0,398.6L421.0,398.6L420.0,398.5L419.0,398.4L418.0,398.2L417.0,398.1L416.0,397.9L415.0,397.8L414.0,397.6L413.0,397.5L412.0,397.3L411.0,397.2L410.0,397.0L409.0,396.8L408.0,396.6L407.0,396.4L406.0,396.2L405.0,395.9L404.0,395.6L403.0,395.4L402.0,395.1L401.0,394.7L400.0,394.4L399.0,394.1L398.0,393.8L397.0,393.5L396.0,393.2L395.0,392.9L394.0,392.6L393.0,392.4L392.0,392.1L391.0,391.9L390.0,391.7L389.0,391.6L388.0,391.4L387.0,391.3L386.0,391.3L385.0,391.2L384.0,391.3L383.0,391.3L382.0,391.4L381.0,391.5L380.0,391.7L379.0,391.8L378.0,392.0L377.0,392.2L376.0,392.4L375.0,392.6L374.0,392.8L373.0,393.0L372.0,393.3L371.0,393.5L370.0,393.7L369.0,393.8L368.0,394.0L367.0,394.2L366.0,394.3L365.0,394.4L364.0,394.5L363.0,394.5L362.0,394.5L361.0,394.5L360.0,394.5L359.0,394.4L358.0,394.4L357.0,394.4L356.0,394.3L355.0,394.2L354.0,394.2L353.0,394.1L352.0,394.0L351.0,393.9L350.0,393.8L349.0,393.7L348.0,393.6L347.0,393.5L346.0,393.4L345.0,393.3L344.0,393.2L343.0,393.1L342.0,393.0L341.0,392.9L340.0,392.8L339.0,392.7L338.0,392.6L337.0,392.5L336.0,392.4L335.0,392.4L334.0,392.3L333.0,392.2L332.0,392.1L331.0,392.1L330.0,392.0L329.0,391.9L328.0,391.9L327.0,391.8L326.0,391.8L325.0,391.7L324.0,391.7L323.0,391.6L322.0,391.5L321.0,391.5L320.0,391.4L319.0,391.4L318.0,391.3L317.0,391.3L316.0,391.2L315.0,391.2L314.0,391.1L313.0,391.1L312.0,391.0L311.0,391.0L310.0,391.0L309.0,390.9L308.0,390.9L307.0,390.9L306.0,390.8L305.0,390.8L304.0,390.8L303.0,390.8L302.0,390.8L301.0,390.8L300.0,390.8L299.0,390.8L298.0,390.8L297.0,390.8L296.0,390.8L295.0,390.8L294.0,390.8L293.0,390.9L292.0,390.9L291.0,390.9L290.0,390.9L289.0,391.0L288.0,391.0L287.0,391.1L286.0,391.1L285.0,391.1L284.0,391.2L283.0,391.2L282.0,391.3L281.0,391.3L280.0,391.4L279.0,391.4L278.0,391.4L277.0,391.5L276.0,391.5L275.0,391.6L274.0,391.6L273.0,391.6L272.0,391.6L271.0,391.7L270.0,391.7L269.0,391.7L268.0,391.7L267.0,391.7L266.0,391.7L265.0,391.8L264.0,391.7L263.0,391.7L262.0,391.7L261.0,391.7L260.0,391.7L259.0,391.7L258.0,391.7L257.0,391.7L256.0,391.7L255.0,391.7L254.0,391.7L253.0,391.7L252.0,391.7L251.0,391.7L250.0,391.6L249.0,391.6L248.0,391.6L247.0,391.6L246.0,391.6L245.0,391.6L244.0,391.5L243.0,391.5L242.0,391.5L241.0,391.5L240.0,391.5L239.0,391.4L238.0,391.4L237.0,391.4L236.0,391.4L235.0,391.4L234.0,391.3L233.0,391.3L232.0,391.3L231.0,391.3L230.0,391.2L229.0,391.2L228.0,391.2L227.0,391.1L226.0,391.1L225.0,391.1L224.0,391.1L223.0,391.0L222.0,391.0L221.0,391.0L220.0,390.9L219.0,390.9L218.0,390.8L217.0,390.8L216.0,390.7L215.0,390.6L214.0,390.6L213.0,390.5L212.0,390.4L211.0,390.3L210.0,390.2L209.0,390.2L208.0,390.1L207.0,390.0L206.0,389.9L205.0,389.8L204.0,389.8L203.0,389.7L202.0,389.6L201.0,389.6L200.0,389.5L199.0,389.4L198.0,389.4L197.0,389.3L196.0,389.3L195.0,389.2L194.0,389.2L193.0,389.1L192.0,389.0L191.0,389.0L190.0,388.9L189.0,388.9L188.0,388.8L187.0,388.8L186.0,388.7L185.0,388.7L184.0,388.6L183.0,388.6L182.0,388.5L181.0,388.4L180.0,388.4L179.0,388.3L178.0,388.3L177.0,388.2L176.0,388.2L175.0,388.2L174.0,388.1L173.0,388.1L172.0,388.0L171.0,388.0L170.0,387.9L169.0,387.9L168.0,387.8L167.0,387.8L166.0,387.7L165.0,387.7L164.0,387.7L163.0,387.6L162.0,387.6L161.0,387.5L160.0,387.5Z" fill="#cbcbcb" stroke="none" shape-rendering="crispEdges"/>
<!-- curve -->
<path d="M160.0,385.6L160.5,385.6L161.0,385.6L161.5,385.6L162.0,385.6L162.5,385.6L163.0,385.6L163.5,385.6L164.0,385.6L164.5,385.6L165.0,385.6L165.5,385.6L166.0,385.6L166.5,385.6L167.0,385.6L167.5,385.6L168.0,385.6L168.5,385.6L169.0,385.6L169.5,385.6L170.0,385.6L170.5,385.6L171.0,385.6L171.5,385.6L172.0,385.6L172.5,385.6L173.0,385.6L173.5,385.6L174.0,385.6L174.5,385.6L175.0,385.6L175.5,385.6L176.0,385.6L176.5,385.6L177.0,385.6L177.5,385.6L178.0,385.6L178.5,385.6L179.0,385.6L179.5,385.6L180.0,385.6L180.5,385.6L181.0,385.6L181.5,385.6L182.0,385.6L182.5,385.6L183.0,385.6L183.5,385.6L184.0,385.6L184.5,385.6L185.0,385.6L185.5,385.6L186.0,385.6L186.5,385.6L187.0,385.6L187.5,385.6L188.0,385.6L188.5,385.6L189.0,385.6L189.5,385.6L190.0,385.6L190.5,385.6L191.0,385.5L191.5,385.5L192.0,385.5L192.5,385.5L193.0,385.5L193.5,385.5L194.0,385.5L194.5,385.5L195.0,385.5L195.5,385.5L196.0,385.5L196.5,385.5L197.0,385.5L197.5,385.5L198.0,385.5L198.5,385.5L199.0,385.5L199.5,385.5L200.0,385.5L200.5,385.5L201.0,385.5L201.5,385.5L202.0,385.5L202.5,385.5L203.0,385.5L203.5,385.5L204.0,385.5L204.5,385.5L205.0,385.5L205.5,385.5L206.0,385.5L206.5,385.5L207.0,385.5L207.5,385.5L208.0,385.5L208.5,385.5L209.0,385.5L209.5,385.5L210.0,385.5L210.5,385.5L211.0,385.5L211.5,385.5L212.0,385.5L212.5,385.5L213.0,385.5L213.5,385.4L214.0,385.4L214.5,385.4L215.0,385.4L215.5,385.4L216.0,385.4L216.5,385.4L217.0,385.4L217.5,385.4L218.0,385.4L218.5,385.4L219.0,385.4L219.5,385.4L220.0,385.4L220.5,385.4L221.0,385.4L221.5,385.4L222.0,385.4L222.5,385.4L223.0,385.4L223.5,385.4L224.0,385.4L224.5,385.4L225.0,385.4L225.5,385.4L226.0,385.4L226.5,385.4L227.0,385.4L227.5,385.4L228.0,385.3L228.5,385.3L229.0,385.3L229.5,385.3L230.0,385.3L230.5,385.3L231.0,385.3L231.5,385.3L232.0,385.3L232.5,385.3L233.0,385.3L233.5,385.3L234.0,385.3L234.5,385.3L235.0,385.3L235.5,385.3L236.0,385.3L236.5,385.3L237.0,385.2L237.5,385.2L238.0,385.2L238.5,385.2L239.0,385.2L239.5,385.2L240.0,385.2L240.5,385.1L241.0,385.1L241.5,385.1L242.0,385.1L242.5,385.1L243.0,385.0L243.5,385.0L244.0,385.0L244.5,385.0L245.0,385.0L245.5,384.9L246.0,384.9L246.5,384.9L247.0,384.9L247.5,384.9L248.0,384.8L248.5,384.8L249.0,384.8L249.5,384.8L250.0,384.7L250.5,384.7L251.0,384.7L251.5,384.7L252.0,384.6L252.5,384.6L253.0,384.6L253.5,384.5L254.0,384.5L254.5,384.4L255.0,384.4L255.5,384.4L256.0,384.3L256.5,384.3L257.0,384.3L257.5,384.2L258.0,384.2L258.5,384.2L259.0,384.1L259.5,384.1L260.0,384.1L260.5,384.1L261.0,384.1L261.5,384.0L262.0,384.0L262.5,384.0L263.0,384.0L263.5,384.0L264.0,384.0L264.5,384.0L265.0,384.0L265.5,384.0L266.0,384.0L266.5,384.0L267.0,384.0L267.5,384.0L268.0,384.0L268.5,384.0L269.0,384.1L269.5,384.1L270.0,384.1L270.5,384.1L271.0,384.2L271.5,384.2L272.0,384.2L272.5,384.3L273.0,384.3L273.5,384.3L274.0,384.4L274.5,384.4L275.0,384.5L275.5,384.5L276.0,384.5L276.5,384.6L277.0,384.6L277.5,384.7L278.0,384.7L278.5,384.8L279.0,384.8L279.5,384.9L280.0,384.9L280.5,384.9L281.0,385.0L281.5,385.0L282.0,385.1L282.5,385.1L283.0,385.2L283.5,385.2L284.0,385.3L284.5,385.3L285.0,385.4L285.5,385.4L286.0,385.5L286.5,385.5L287.0,385.6L287.5,385.6L288.0,385.7L288.5,385.7L289.0,385.8L289.5,385.9L290.0,385.9L290.5,386.0L291.0,386.0L291.5,386.1L292.0,386.1L292.5,386.2L293.0,386.2L293.5,386.3L294.0,386.3L294.5,386.4L295.0,386.4L295.5,386.4L296.0,386.5L296.5,386.5L297.0,386.6L297.5,386.6L298.0,386.6L298.5,386.7L299.0,386.7L299.5,386.7L300.0,386.8L300.5,386.8L301.0,386.8L301.5,386.9L302.0,386.9L302.5,386.9L303.0,387.0L303.5,387.0L304.0,387.0L304.5,387.1L305.0,387.1L305.5,387.1L306.0,387.2L306.5,387.2L307.0,387.2L307.5,387.2L308.0,387.2L308.5,387.3L309.0,387.3L309.5,387.3L310.0,387.3L310.5,387.3L311.0,387.3L311.5,387.3L312.0,387.3L312.5,387.3L313.0,387.3L313.5,387.3L314.0,387.3L314.5,387.3L315.0,387.3L315.5,387.3L316.0,387.3L316.5,387.3L317.0,387.3L317.5,387.3L318.0,387.3L318.5,387.3L319.0,387.3L319.5,387.3L320.0,387.3L320.5,387.3L321.0,387.3L321.5,387.3L322.0,387.3L322.5,387.3L323.0,387.3L323.5,387.3L324.0,387.3L324.5,387.3L325.0,387.3L325.5,387.3L326.0,387.3L326.5,387.3L327.0,387.3L327.5,387.3L328.0,387.2L328.5,387.2L329.0,387.1L329.5,387.1L330.0,387.0L330.5,386.9L331.0,386.8L331.5,386.7L332.0,386.7L332.5,386.6L333.0,386.5L333.5,386.4L334.0,386.3L334.5,386.2L335.0,386.1L335.5,386.0L336.0,386.0L336.5,385.9L337.0,385.8L337.5,385.7L338.0,385.6L338.5,385.5L339.0,385.4L339.5,385.3L340.0,385.2L340.5,385.1L341.0,385.0L341.5,384.9L342.0,384.8L342.5,384.7L343.0,384.6L343.5,384.5L344.0,384.4L344.5,384.4L345.0,384.3L345.5,384.3L346.0,384.3L346.5,384.3L347.0,384.3L347.5,384.3L348.0,384.3L348.5,384.3L349.0,384.3L349.5,384.3L350.0,384.3L350.5,384.3L351.0,384.4L351.5,384.4L352.0,384.4L352.5,384.5L353.0,384.5L353.5,384.6L354.0,384.6L354.5,384.7L355.0,384.7L355.5,384.8L356.0,384.8L356.5,384.9L357.0,384.9L357.5,384.9L358.0,385.0L358.5,385.0L359.0,385.1L359.5,385.1L360.0,385.2L360.5,385.2L361.0,385.2L361.5,385.3L362.0,385.3L362.5,385.4L363.0,385.4L363.5,385.5L364.0,385.5L364.5,385.6L365.0,385.6L365.5,385.7L366.0,385.7L366.5,385.7L367.0,385.8L367.5,385.8L368.0,385.8L368.5,385.8L369.0,385.8L369.5,385.8L370.0,385.8L370.5,385.8L371.0,385.7L371.5,385.7L372.0,385.7L372.5,385.7L373.0,385.7L373.5,385.7L374.0,385.7L374.5,385.7L375.0,385.6L375.5,385.6L376.0,385.6L376.5,385.6L377.0,385.6L377.5,385.5L378.0,385.5L378.5,385.5L379.0,385.5L379.5,385.5L380.0,385.4L380.5,385.4L381.0,385.3L381.5,385.3L382.0,385.2L382.5,385.2L383.0,385.1L383.5,385.1L384.0,385.0L384.5,384.9L385.0,384.8L385.5,384.8L386.0,384.7L386.5,384.6L387.0,384.5L387.5,384.4L388.0,384.3L388.5,384.3L389.0,384.2L389.5,384.1L390.0,384.0L390.5,383.9L391.0,383.9L391.5,383.8L392.0,383.7L392.5,383.7L393.0,383.6L393.5,383.5L394.0,383.5L394.5,383.4L395.0,383.4L395.5,383.3L396.0,383.2L396.5,383.2L397.0,383.1L397.5,383.0L398.0,383.0L398.5,382.9L399.0,382.8L399.5,382.8L400.0,382.7L400.5,382.6L401.0,382.6L401.5,382.5L402.0,382.5L402.5,382.4L403.0,382.3L403.5,382.3L404.0,382.2L404.5,382.2L405.0,382.1L405.5,382.1L406.0,382.0L406.5,382.0L407.0,382.0L407.5,381.9L408.0,381.9L408.5,381.9L409.0,381.8L409.5,381.8L410.0,381.8L410.5,381.8L411.0,381.8L411.5,381.8L412.0,381.8L412.5,381.8L413.0,381.8L413.5,381.8L414.0,381.8L414.5,381.8L415.0,381.8L415.5,381.8L416.0,381.9L416.5,381.9L417.0,381.9L417.5,382.0L418.0,382.0L418.5,382.0L419.0,382.1L419.5,382.1L420.0,382.2L420.5,382.2L421.0,382.3L421.5,382.3L422.0,382.4L422.5,382.5L423.0,382.6L423.5,382.7L424.0,382.8L424.5,383.0L425.0,383.1L425.5,383.3L426.0,383.4L426.5,383.6L427.0,383.8L427.5,384.0L428.0,384.2L428.5,384.4L429.0,384.6L429.5,384.8L430.0,385.0L430.5,385.2L431.0,385.4L431.5,385.6L432.0,385.8L432.5,386.0L433.0,386.2L433.5,386.4L434.0,386.6L434.5,386.7L435.0,386.9L435.5,387.1L436.0,387.2L436.5,387.4L437.0,387.5L437.5,387.6L438.0,387.8L438.5,387.9L439.0,388.1L439.5,388.2L440.0,388.3L440.5,388.4L441.0,388.6L441.5,388.7L442.0,388.8L442.5,388.9L443.0,389.1L443.5,389.2L444.0,389.3L444.5,389.4L445.0,389.5L445.5,389.7L446.0,389.8L446.5,389.9L447.0,390.0L447.5,390.1L448.0,390.2L448.5,390.4L449.0,390.5L449.5,390.6L450.0,390.7L450.5,390.8L451.0,390.9L451.5,391.1L452.0,391.2L452.5,391.3L453.0,391.4L453.5,391.6L454.0,391.7L454.5,391.9L455.0,392.0L455.5,392.2L456.0,392.3L456.5,392.4L457.0,392.6L457.5,392.7L458.0,392.9L458.5,393.0L459.0,393.1L459.5,393.2L460.0,393.4L460.5,393.5L461.0,393.6L461.5,393.7L462.0,393.8L462.5,393.8L463.0,393.9L463.5,393.9L464.0,393.9L464.5,393.9L465.0,393.8L465.5,393.8L466.0,393.7L466.5,393.6L467.0,393.5L467.5,393.4L468.0,393.4L468.5,393.3L469.0,393.2L469.5,393.1L470.0,392.9L470.5,392.8L471.0,392.7L471.5,392.5L472.0,392.4L472.5,392.2L473.0,392.0L473.5,391.7L474.0,391.5L474.5,391.3L475.0,391.0L475.5,390.8L476.0,390.5L476.5,390.2L477.0,390.0L477.5,389.7L478.0,389.4L478.5,389.2L479.0,388.9L479.5,388.6L480.0,388.4L480.5,388.1L481.0,387.8L481.5,387.6L482.0,387.3L482.5,387.0L483.0,386.7L483.5,386.3L484.0,386.0L484.5,385.7L485.0,385.4L485.5,385.0L486.0,384.7L486.5,384.4L487.0,384.0L487.5,383.7L488.0,383.4L488.5,383.1L489.0,382.9L489.5,382.6L490.0,382.3L490.5,382.1L491.0,381.9L491.5,381.7L492.0,381.5L492.5,381.3L493.0,381.1L493.5,380.9L494.0,380.8L494.5,380.6L495.0,380.4L495.5,380.2L496.0,380.1L496.5,379.9L497.0,379.8L497.5,379.6L498.0,379.5L498.5,379.3L499.0,379.2L499.5,379.0L500.0,378.9L500.5,378.8L501.0,378.6L501.5,378.5L502.0,378.4L502.5,378.3L503.0,378.2L503.5,378.1L504.0,377.9L504.5,377.8L505.0,377.7L505.5,377.6L506.0,377.5L506.5,377.4L507.0,377.3L507.5,377.1L508.0,377.0L508.5,376.9L509.0,376.8L509.5,376.8L510.0,376.7L510.5,376.6L511.0,376.6L511.5,376.5L512.0,376.5L512.5,376.5L513.0,376.5L513.5,376.5L514.0,376.5L514.5,376.5L515.0,376.5L515.5,376.5L516.0,376.5L516.5,376.6L517.0,376.7L517.5,376.7L518.0,376.8L518.5,376.9L519.0,377.1L519.5,377.2L520.0,377.3L520.5,377.5L521.0,377.6L521.5,377.8L522.0,377.9L522.5,378.1L523.0,378.3L523.5,378.4L524.0,378.6L524.5,378.8L525.0,379.0L525.5,379.2L526.0,379.4L526.5,379.6L527.0,379.9L527.5,380.2L528.0,380.4L528.5,380.7L529.0,381.0L529.5,381.3L530.0,381.6L530.5,381.9L531.0,382.2L531.5,382.5L532.0,382.8L532.5,383.1L533.0,383.3L533.5,383.6L534.0,383.9L534.5,384.1L535.0,384.3L535.5,384.6L536.0,384.9L536.5,385.1L537.0,385.4L537.5,385.7L538.0,386.0L538.5,386.2L539.0,386.5L539.5,386.8L540.0,387.0L540.5,387.3L541.0,387.5L541.5,387.7L542.0,387.9L542.5,388.1L543.0,388.2L543.5,388.3L544.0,388.4L544.5,388.3L545.0,388.2L545.5,388.0L546.0,387.9L546.5,387.7L547.0,387.6L547.5,387.4L548.0,387.2L548.5,387.0L549.0,386.8L549.5,386.5L550.0,386.3L550.5,386.1L551.0,385.9L551.5,385.5L552.0,385.2L552.5,384.8L553.0,384.4L553.5,383.9L554.0,383.5L554.5,383.0L555.0,382.6L555.5,382.1L556.0,381.7L556.5,381.3L557.0,380.9L557.5,380.6L558.0,380.3L558.5,380.1L559.0,379.9L559.5,379.7L560.0,379.6L560.5,379.4L561.0,379.2L561.5,379.1L562.0,378.9L562.5,378.8L563.0,378.6L563.5,378.5L564.0,378.4L564.5,378.3L565.0,378.2L565.5,378.1L566.0,378.1L566.5,378.0L567.0,378.0L567.5,378.0L568.0,378.0L568.5,378.0L569.0,378.0L569.5,378.0L570.0,378.0L570.5,378.0L571.0,378.1L571.5,378.2L572.0,378.3L572.5,378.5L573.0,378.6L573.5,378.8L574.0,379.1L574.5,379.3L575.0,379.5L575.5,379.8L576.0,380.1L576.5,380.4L577.0,380.7L577.5,381.0L578.0,381.3L578.5,381.6L579.0,381.9L579.5,382.1L580.0,382.5L580.5,382.8L581.0,383.1L581.5,383.5L582.0,383.9L582.5,384.3L583.0,384.7L583.5,385.1L584.0,385.5L584.5,386.0L585.0,386.4L585.5,386.9L586.0,387.3L586.5,387.8L587.0,388.3L587.5,388.8L588.0,389.3L588.5,389.8L589.0,390.3L589.5,390.8L590.0,391.4L590.5,391.9L591.0,392.4L591.5,392.9L592.0,393.5L592.5,394.0L593.0,394.5L593.5,395.1L594.0,395.6L594.5,396.1L595.0,396.6L595.5,397.2L596.0,397.8L596.5,398.4L597.0,399.0L597.5,399.6L598.0,400.3L598.5,400.9L599.0,401.6L599.5,402.2L600.0,402.9L600.5,403.6L601.0,404.2L601.5,404.9L602.0,405.5L602.5,406.2L603.0,406.8L603.5,407.4L604.0,408.0L604.5,408.6L605.0,409.1L605.5,409.7L606.0,410.2L606.5,410.6L607.0,411.0L607.5,411.5L608.0,412.0L608.5,412.4L609.0,412.9L609.5,413.4L610.0,413.8L610.5,414.2L611.0,414.6L611.5,414.9L612.0,415.2L612.5,415.5L613.0,415.4L613.5,415.2L614.0,415.0L614.5,414.7L615.0,414.4L615.5,414.1L616.0,413.7L616.5,413.3L617.0,412.9L617.5,412.5L618.0,412.1L618.5,411.7L619.0,411.2L619.5,410.8L620.0,410.3L620.5,409.7L621.0,409.0L621.5,408.2L622.0,407.4L622.5,406.5L623.0,405.6L623.5,404.6L624.0,403.6L624.5,402.5L625.0,401.4L625.5,400.3L626.0,399.2L626.5,398.0L627.0,396.8L627.5,395.7L628.0,394.5L628.5,393.3L629.0,392.2L629.5,391.0L630.0,389.9L630.5,388.8L631.0,387.7L631.5,386.7L632.0,385.7L632.5,384.7L633.0,383.7L633.5,382.8L634.0,381.8L634.5,380.8L635.0,379.9L635.5,378.9L636.0,378.0L636.5,377.0L637.0,376.0L637.5,375.1L638.0,374.1L638.5,373.1L639.0,372.2L639.5,371.2L640.0,370.2L640.5,369.3L641.0,368.3L641.5,367.3L642.0,366.3L642.5,365.3L643.0,364.3L643.5,363.2L644.0,362.2L644.5,361.2L645.0,360.1L645.5,359.0L646.0,357.9L646.5,356.8L647.0,355.7L647.5,354.6L648.0,353.4L648.5,352.3L649.0,351.1L649.5,350.0L650.0,348.8L650.5,347.6L651.0,346.5L651.5,345.3L652.0,344.2L652.5,343.1L653.0,342.0L653.5,340.9L654.0,339.8L654.5,338.7L655.0,337.7L655.5,336.7L656.0,335.7L656.5,334.7L657.0,333.7L657.5,332.6L658.0,331.4L658.5,330.3L659.0,329.2L659.5,328.1L660.0,327.0L660.5,326.1L661.0,325.3L661.5,324.6L662.0,324.0L662.5,323.5L663.0,323.2L663.5,323.1L664.0,323.0L664.5,323.0L665.0,323.0L665.5,323.0L666.0,323.0L666.5,323.0L667.0,323.1L667.5,323.3L668.0,323.5L668.5,323.8L669.0,324.2L669.5,324.7L670.0,325.2L670.5,325.7L671.0,326.2L671.5,326.8L672.0,327.5L672.5,328.2L673.0,328.9L673.5,329.6L674.0,330.4L674.5,331.1L675.0,331.9L675.5,332.9L676.0,334.0L676.5,335.2L677.0,336.5L677.5,338.0L678.0,339.5L678.5,341.1L679.0,342.8L679.5,344.5L680.0,346.3L680.5,348.1L681.0,349.9L681.5,351.7L682.0,353.6L682.5,355.5L683.0,357.6L683.5,359.7L684.0,362.0L684.5,364.4L685.0,366.9L685.5,369.4L686.0,372.0L686.5,374.6L687.0,377.3L687.5,380.0L688.0,382.7L688.5,385.5L689.0,388.2L689.5,390.9L690.0,393.5L690.5,396.1L691.0,398.7L691.5,401.2L692.0,403.6L692.5,406.0L693.0,408.4L693.5,410.8L694.0,413.2L694.5,415.6L695.0,418.0L695.5,420.4L696.0,422.8L696.5,425.2L697.0,427.6L697.5,429.9L698.0,432.2L698.5,434.4L699.0,436.6L699.5,438.8L700.0,440.9L700.5,442.9L701.0,444.9L701.5,446.8L702.0,448.6L702.5,450.4L703.0,452.2L703.5,454.0L704.0,455.8L704.5,457.6L705.0,459.3L705.5,461.0L706.0,462.6L706.5,464.1L707.0,465.6L707.5,466.9L708.0,468.2L708.5,469.3L709.0,470.3L709.5,471.1L710.0,471.9L710.5,472.6L711.0,473.3L711.5,474.0L712.0,474.7L712.5,475.3L713.0,475.6L713.5,475.0L714.0,474.3L714.5,473.5L715.0,472.6L715.5,471.6L716.0,470.6L716.5,469.5L717.0,468.4L717.5,467.3L718.0,466.1L718.5,464.8L719.0,463.2L719.5,461.3L720.0,459.2L720.5,456.9L721.0,454.4L721.5,451.8L722.0,449.0L722.5,446.2L723.0,443.2L723.5,440.3L724.0,437.3L724.5,434.4L725.0,431.4L725.5,428.6L726.0,425.7L726.5,422.8L727.0,419.7L727.5,416.5L728.0,413.3L728.5,410.0L729.0,406.7L729.5,403.4L730.0,400.1L730.5,396.7L731.0,393.5L731.5,390.3L732.0,387.1L732.5,384.1L733.0,381.1L733.5,378.2L734.0,375.2L734.5,372.3L735.0,369.3L735.5,366.4L736.0,363.4L736.5,360.6L737.0,357.7L737.5,355.0L738.0,352.4L738.5,349.8L739.0,347.4L739.5,345.2L740.0,343.0L740.5,341.1L741.0,339.3L741.5,337.5L742.0,335.7L742.5,334.0L743.0,332.4L743.5,330.8L744.0,329.2L744.5,327.8L745.0,326.4L745.5,325.1L746.0,323.8L746.5,322.7L747.0,321.7L747.5,320.7L748.0,319.9L748.5,319.0L749.0,318.2L749.5,317.4L750.0,316.7L750.5,315.9L751.0,315.3L751.5,314.7L752.0,314.2L752.5,313.7L753.0,313.3L753.5,313.0L754.0,312.8L754.5,312.7L755.0,312.7L755.5,312.7L756.0,312.7L756.5,312.7L757.0,312.7L757.5,312.8L758.0,312.9L758.5,313.2L759.0,313.5L759.5,313.9L760.0,314.4L760.5,314.9L761.0,315.4L761.5,316.0L762.0,316.6L762.5,317.3L763.0,317.9L763.5,318.6L764.0,319.2L764.5,319.9L765.0,320.5L765.5,321.1L766.0,321.8L766.5,322.5L767.0,323.2L767.5,324.0L768.0,324.8L768.5,325.6L769.0,326.4L769.5,327.2L770.0,328.1L770.5,328.9L771.0,329.8L771.5,330.7L772.0,331.6L772.5,332.5L773.0,333.4L773.5,334.3L774.0,335.2L774.5,336.1L775.0,337.0L775.5,337.9L776.0,338.8L776.5,339.6L777.0,340.5L777.5,341.4L778.0,342.3L778.5,343.2L779.0,344.1L779.5,345.1L780.0,346.0L780.5,347.0L781.0,348.0L781.5,349.1L782.0,350.1L782.5,351.2L783.0,352.4L783.5,353.6L784.0,354.8L784.5,356.1L785.0,357.5L785.5,359.0L786.0,360.6L786.5,362.3L787.0,364.1L787.5,366.0L788.0,367.9L788.5,369.9L789.0,371.9L789.5,373.9L790.0,375.9L790.5,377.9L791.0,379.8L791.5,381.7L792.0,383.6L792.5,385.5L793.0,387.5L793.5,389.5L794.0,391.6L794.5,393.8L795.0,395.9L795.5,398.0L796.0,400.1L796.5,402.0L797.0,403.9L797.5,405.7L798.0,407.3L798.5,408.8L799.0,410.0L799.5,411.1L800.0,412.0L800.5,412.9L801.0,413.8L801.5,414.6L802.0,415.4L802.5,416.1L803.0,416.8L803.5,417.4L804.0,417.9L804.5,418.2L805.0,418.5L805.5,418.6L806.0,418.8L806.5,418.9L807.0,419.0L807.5,419.0L808.0,419.1L808.5,419.1L809.0,419.2L809.5,419.2L810.0,419.3L810.5,419.3L811.0,419.4L811.5,419.5L812.0,419.6L812.5,419.7L813.0,419.8L813.5,419.9L814.0,420.1L814.5,420.4L815.0,420.8L815.5,421.3L816.0,422.0L816.5,422.8L817.0,423.7L817.5,424.8L818.0,425.9L818.5,427.2L819.0,428.5L819.5,429.9L820.0,431.4L820.5,432.9L821.0,434.4L821.5,436.4L822.0,438.7L822.5,441.3L823.0,444.2L823.5,447.2L824.0,450.3L824.5,453.4L825.0,456.4L825.5,459.3L826.0,461.9L826.5,464.2L827.0,466.1L827.5,467.8L828.0,469.5L828.5,471.2L829.0,472.9L829.5,474.5L830.0,476.1L830.5,477.6L831.0,479.0L831.5,480.3L832.0,481.4L832.5,482.1L833.0,481.0L833.5,479.6L834.0,478.0L834.5,476.1L835.0,474.1L835.5,471.9L836.0,469.5L836.5,467.0L837.0,464.3L837.5,461.5L838.0,458.5L838.5,455.4L839.0,452.2L839.5,448.9L840.0,445.5L840.5,442.1L841.0,438.5L841.5,435.0L842.0,431.3L842.5,427.7L843.0,424.0L843.5,420.3L844.0,416.6L844.5,413.0L845.0,409.3L845.5,405.7L846.0,402.1L846.5,398.6L847.0,395.2L847.5,391.8L848.0,388.5L848.5,385.3L849.0,381.9L849.5,378.4L850.0,374.6L850.5,370.6L851.0,366.5L851.5,362.2L852.0,357.8L852.5,353.2L853.0,348.5L853.5,343.7L854.0,338.9L854.5,333.9L855.0,328.9L855.5,323.9L856.0,318.8L856.5,313.7L857.0,308.6L857.5,303.5L858.0,298.4L858.5,293.3L859.0,288.3L859.5,283.4L860.0,278.5L860.5,273.7L861.0,269.0L861.5,264.5L862.0,260.0L862.5,255.7L863.0,251.6L863.5,247.6L864.0,243.8L864.5,240.2L865.0,236.9L865.5,233.7L866.0,230.8L866.5,228.1L867.0,225.7L867.5,223.6L868.0,221.7L868.5,220.2L869.0,219.0L869.5,218.1L870.0,217.5L870.5,217.0L871.0,216.8L871.5,216.8L872.0,216.8L872.5,216.8L873.0,216.8L873.5,216.8L874.0,216.8L874.5,217.2L875.0,217.7L875.5,218.5L876.0,220.0L876.5,222.0L877.0,224.6L877.5,227.6L878.0,231.1L878.5,235.1L879.0,239.6L879.5,244.4L880.0,249.6L880.5,255.3L881.0,261.2L881.5,267.6L882.0,274.2L882.5,281.1L883.0,288.3L883.5,295.7L884.0,303.4L884.5,311.2L885.0,319.3L885.5,327.5L886.0,335.8L886.5,344.3L887.0,352.8L887.5,361.5L888.0,370.1L888.5,378.9L889.0,387.6L889.5,396.3L890.0,405.0L890.5,413.6L891.0,422.2L891.5,430.6L892.0,439.0L892.5,447.2L893.0,455.2L893.5,463.1L894.0,470.7L894.5,478.2L895.0,485.4L895.5,492.3L896.0,498.9L896.5,505.2L897.0,511.2L897.5,516.8L898.0,522.1L898.5,526.9L899.0,531.3L899.5,535.3L900.0,538.8L900.5,541.9L901.0,544.4L901.5,542.5L902.0,539.7L902.5,536.5L903.0,532.9L903.5,528.9L904.0,524.5L904.5,519.9L905.0,514.9L905.5,509.6L906.0,504.0L906.5,498.3L907.0,492.3L907.5,486.1L908.0,479.7L908.5,473.3L909.0,466.6L909.5,459.9L910.0,453.2L910.5,446.3L911.0,439.5L911.5,432.6L912.0,425.8L912.5,419.0L913.0,412.3L913.5,405.7L914.0,399.2L914.5,392.8L915.0,386.6L915.5,380.1L916.0,372.9L916.5,365.0L917.0,356.6L917.5,347.7L918.0,338.4L918.5,328.8L919.0,319.0L919.5,309.0L920.0,298.9L920.5,288.8L921.0,278.7L921.5,268.9L922.0,259.2L922.5,249.9L923.0,241.0L923.5,232.5L924.0,224.6L924.5,217.3L925.0,210.8L925.5,205.0L926.0,200.1L926.5,196.1L927.0,193.2L927.5,191.4L928.0,190.8L928.5,190.3L929.0,190.2L929.5,190.2L930.0,190.2L930.5,190.2L931.0,190.2L931.5,190.3L932.0,190.8L932.5,191.5L933.0,193.6L933.5,197.0L934.0,201.6L934.5,207.4L935.0,214.3L935.5,222.2L936.0,231.1L936.5,240.8L937.0,251.4L937.5,262.7L938.0,274.6L938.5,287.2L939.0,300.3L939.5,313.8L940.0,327.7L940.5,341.9L941.0,356.4L941.5,371.1L942.0,385.8L942.5,400.6L943.0,415.3L943.5,429.9L944.0,444.3L944.5,458.5L945.0,472.3L945.5,485.8L946.0,498.8L946.5,511.2L947.0,523.0L947.5,534.2L948.0,544.6L948.5,554.2L949.0,562.8L949.5,570.5L950.0,577.2L950.5,579.5L951.0,572.9L951.5,565.2L952.0,556.4L952.5,546.7L953.0,536.0L953.5,524.6L954.0,512.6L954.5,499.9L955.0,486.7L955.5,473.0L956.0,459.1L956.5,444.9L957.0,430.6L957.5,416.2L958.0,401.8L958.5,387.5L959.0,373.5L959.5,359.8L960.0,346.4L960.5,333.6L961.0,321.3L961.5,309.7L962.0,298.8L962.5,288.8L963.0,279.8L963.5,271.7L964.0,264.8L964.5,259.0L965.0,254.6L965.5,251.6L966.0,250.0L966.5,249.5L967.0,249.4L967.5,249.3L968.0,249.3L968.5,249.3L969.0,249.3L969.5,249.3L970.0,249.4L970.5,249.9L971.0,251.1L971.5,253.4L972.0,256.6L972.5,260.8L973.0,265.9L973.5,271.9L974.0,278.5L974.5,285.8L975.0,293.8L975.5,302.2L976.0,311.2L976.5,320.5L977.0,330.1L977.5,340.0L978.0,350.1L978.5,360.3L979.0,370.5L979.5,380.8L980.0,390.9L980.5,400.8L981.0,410.6L981.5,420.0L982.0,429.0L982.5,437.6L983.0,445.7L983.5,453.3L984.0,460.1L984.5,466.3L985.0,471.6L985.5,475.9L986.0,471.8L986.5,467.0L987.0,461.5L987.5,455.5L988.0,448.9L988.5,441.9L989.0,434.4L989.5,426.7L990.0,418.6L990.5,410.3L991.0,401.9L991.5,393.4L992.0,384.8L992.5,376.2L993.0,367.7L993.5,359.4L994.0,351.2L994.5,343.3L995.0,335.8L995.5,328.6L996.0,321.8L996.5,315.5L997.0,309.9L997.5,304.8L998.0,300.4L998.5,296.7L999.0,293.9L999.5,291.9L1000.0,290.8L1000.5,290.3L1001.0,290.1L1001.5,290.1L1002.0,290.1L1002.5,290.1L1003.0,290.1L1003.5,290.1L1004.0,290.2L1004.5,290.7L1005.0,291.5L1005.5,293.1L1006.0,295.6L1006.5,298.8L1007.0,302.6L1007.5,307.1L1008.0,312.1L1008.5,317.6L1009.0,323.6L1009.5,329.9L1010.0,336.6L1010.5,343.5L1011.0,350.7L1011.5,357.9L1012.0,365.3L1012.5,372.7L1013.0,380.1L1013.5,387.3L1014.0,394.5L1014.5,401.4L1015.0,408.1L1015.5,414.4L1016.0,420.4L1016.5,425.9L1017.0,430.9L1017.5,435.4L1018.0,439.2L1018.5,441.4L1019.0,438.7L1019.5,435.6L1020.0,432.1L1020.5,428.3L1021.0,424.1L1021.5,419.7L1022.0,415.1L1022.5,410.3L1023.0,405.3L1023.5,400.2L1024.0,395.0L1024.5,389.7L1025.0,384.5L1025.5,379.3L1026.0,374.2L1026.5,369.1L1027.0,364.2L1027.5,359.5L1028.0,355.0L1028.5,350.8L1029.0,346.8L1029.5,343.2L1030.0,339.9L1030.5,337.0L1031.0,334.6L1031.5,332.6L1032.0,331.2L1032.5,330.3L1033.0,329.8L1033.5,329.5L1034.0,329.4L1034.5,329.4L1035.0,329.4L1035.5,329.4L1036.0,329.4L1036.5,329.5L1037.0,329.8L1037.5,330.3L1038.0,331.1L1038.5,332.3L1039.0,334.1L1039.5,336.2L1040.0,338.8L1040.5,341.7L1041.0,345.0L1041.5,348.5L1042.0,352.3L1042.5,356.4L1043.0,360.6L1043.5,365.0L1044.0,369.6L1044.5,374.2L1045.0,379.0L1045.5,383.8L1046.0,388.6L1046.5,393.4L1047.0,398.1L1047.5,402.7L1048.0,407.3L1048.5,411.7L1049.0,415.9L1049.5,419.9L1050.0,423.6L1050.5,427.1L1051.0,430.3L1051.5,433.1L1052.0,435.6L1052.5,437.5L1053.0,435.6L1053.5,433.3L1054.0,430.8L1054.5,427.9L1055.0,424.8L1055.5,421.5L1056.0,418.0L1056.5,414.4L1057.0,410.6L1057.5,406.7L1058.0,402.7L1058.5,398.7L1059.0,394.6L1059.5,390.6L1060.0,386.6L1060.5,382.7L1061.0,378.8L1061.5,375.1L1062.0,371.6L1062.5,368.2L1063.0,365.0L1063.5,362.0L1064.0,359.4L1064.5,357.0L1065.0,354.9L1065.5,353.2L1066.0,351.8L1066.5,350.9L1067.0,350.4L1067.5,349.9L1068.0,349.8L1068.5,349.7L1069.0,349.7L1069.5,349.7L1070.0,349.7L1070.5,349.7L1071.0,349.8L1071.5,350.2L1072.0,350.7L1072.5,351.6L1073.0,352.8L1073.5,354.3L1074.0,356.2L1074.5,358.5L1075.0,361.0L1075.5,363.7L1076.0,366.7L1076.5,369.9L1077.0,373.2L1077.5,376.7L1078.0,380.3L1078.5,384.0L1079.0,387.7L1079.5,391.5L1080.0,395.2L1080.5,399.0L1081.0,402.7L1081.5,406.3L1082.0,409.8L1082.5,413.2L1083.0,416.4L1083.5,419.4L1084.0,422.2L1084.5,424.8L1085.0,427.0L1085.5,429.0L1086.0,428.9L1086.5,426.8L1087.0,424.4L1087.5,421.6L1088.0,418.5L1088.5,415.2L1089.0,411.6L1089.5,407.9L1090.0,404.0L1090.5,399.9L1091.0,395.7L1091.5,391.4L1092.0,387.1L1092.5,382.7L1093.0,378.3L1093.5,374.0L1094.0,369.7L1094.5,365.5L1095.0,361.4L1095.5,357.5L1096.0,353.8L1096.5,350.2L1097.0,346.9L1097.5,343.8L1098.0,341.0L1098.5,338.6L1099.0,336.5L1099.5,334.7L1100.0,333.4L1100.5,332.5L1101.0,332.0L1101.5,331.5L1102.0,331.4L1102.5,331.4L1103.0,331.4L1103.5,331.4L1104.0,331.4L1104.5,331.5L1105.0,331.6L1105.5,332.1L1106.0,332.7L1106.5,333.7L1107.0,335.2L1107.5,337.2L1108.0,339.5L1108.5,342.2L1109.0,345.2L1109.5,348.5L1110.0,352.1L1110.5,355.9L1111.0,359.9L1111.5,364.1L1112.0,368.3L1112.5,372.7L1113.0,377.2L1113.5,381.7L1114.0,386.2L1114.5,390.7L1115.0,395.1L1115.5,399.4L1116.0,403.6L1116.5,407.6L1117.0,411.5L1117.5,415.1L1118.0,418.4L1118.5,421.5L1119.0,424.3L1119.5,426.7L1120.0,428.7L1120.5,427.5L1121.0,425.6L1121.5,423.4L1122.0,421.0L1122.5,418.4L1123.0,415.6L1123.5,412.7L1124.0,409.6L1124.5,406.4L1125.0,403.1L1125.5,399.7L1126.0,396.3L1126.5,392.8L1127.0,389.3L1127.5,385.9L1128.0,382.5L1128.5,379.1L1129.0,375.9L1129.5,372.7L1130.0,369.7L1130.5,366.9L1131.0,364.2L1131.5,361.7L1132.0,359.5L1132.5,357.5L1133.0,355.7L1133.5,354.3L1134.0,353.2L1134.5,352.4L1135.0,351.9L1135.5,351.5L1136.0,351.4L1136.5,351.3L1137.0,351.3L1137.5,351.3L1138.0,351.3L1138.5,351.3L1139.0,351.4L1139.5,351.8L1140.0,352.3L1140.5,353.0L1141.0,354.0L1141.5,355.3L1142.0,356.9L1142.5,358.8L1143.0,360.9L1143.5,363.2L1144.0,365.7L1144.5,368.3L1145.0,371.1L1145.5,373.9L1146.0,376.9L1146.5,379.8L1147.0,382.9L1147.5,385.9L1148.0,388.8L1148.5,391.8L1149.0,394.6L1149.5,397.4L1150.0,400.0L1150.5,402.5L1151.0,404.8L1151.5,406.9L1152.0,408.8L1152.5,410.4L1153.0,410.8L1153.5,409.5L1154.0,408.0L1154.5,406.3L1155.0,404.4L1155.5,402.4L1156.0,400.2L1156.5,398.0L1157.0,395.6L1157.5,393.2L1158.0,390.7L1158.5,388.2L1159.0,385.7L1159.5,383.2L1160.0,380.7L1160.5,378.2L1161.0,375.8L1161.5,373.5L1162.0,371.3L1162.5,369.2L1163.0,367.2L1163.5,365.4L1164.0,363.8L1164.5,362.3L1165.0,361.1L1165.5,360.1L1166.0,359.3L1166.5,358.8L1167.0,358.3L1167.5,358.1L1168.0,358.0L1168.5,358.0L1169.0,358.0L1169.5,358.0L1170.0,358.0L1170.5,358.0L1171.0,358.2L1171.5,358.5L1172.0,359.0L1172.5,359.6L1173.0,360.3L1173.5,361.3L1174.0,362.4L1174.5,363.8L1175.0,365.2L1175.5,366.8L1176.0,368.6L1176.5,370.4L1177.0,372.3L1177.5,374.3L1178.0,376.4L1178.5,378.5L1179.0,380.6L1179.5,382.7L1180.0,384.8L1180.5,386.9L1181.0,389.0L1181.5,391.0L1182.0,392.9L1182.5,394.8L1183.0,396.5L1183.5,398.2L1184.0,399.7L1184.5,401.0L1185.0,402.2L1185.5,403.2L1186.0,403.2L1186.5,402.4L1187.0,401.5L1187.5,400.5L1188.0,399.4L1188.5,398.2L1189.0,397.0L1189.5,395.7L1190.0,394.4L1190.5,393.1L1191.0,391.7L1191.5,390.3L1192.0,388.9L1192.5,387.5L1193.0,386.2L1193.5,384.8L1194.0,383.5L1194.5,382.3L1195.0,381.1L1195.5,380.0L1196.0,379.0L1196.5,378.1L1197.0,377.3L1197.5,376.6L1198.0,376.0L1198.5,375.5L1199.0,375.1L1199.5,374.8L1200.0,374.7L1200.5,374.6L1201.0,374.6L1201.5,374.6L1202.0,374.6L1202.5,374.6L1203.0,374.6L1203.5,374.7L1204.0,374.9L1204.5,375.1L1205.0,375.5L1205.5,375.9L1206.0,376.4L1206.5,376.9L1207.0,377.6L1207.5,378.2L1208.0,379.0L1208.5,379.8L1209.0,380.6L1209.5,381.5L1210.0,382.4L1210.5,383.4L1211.0,384.4L1211.5,385.4L1212.0,386.4L1212.5,387.4L1213.0,388.4L1213.5,389.4L1214.0,390.4L1214.5,391.4L1215.0,392.3L1215.5,393.2L1216.0,394.1L1216.5,394.9L1217.0,395.6L1217.5,396.3L1218.0,396.9L1218.5,397.4L1219.0,397.8L1219.5,397.6L1220.0,397.3L1220.5,396.9L1221.0,396.4L1221.5,395.8L1222.0,395.2L1222.5,394.6L1223.0,393.9L1223.5,393.2L1224.0,392.5L1224.5,391.7L1225.0,391.0L1225.5,390.2L1226.0,389.4L1226.5,388.7L1227.0,387.9L1227.5,387.2L1228.0,386.5L1228.5,385.8L1229.0,385.2L1229.5,384.6L1230.0,384.0L1230.5,383.5L1231.0,383.0L1231.5,382.5L1232.0,382.1L1232.5,381.8L1233.0,381.5L1233.5,381.3L1234.0,381.1L1234.5,381.0L1235.0,381.0L1235.5,381.0L1236.0,381.0L1236.5,381.0L1237.0,381.0L1237.5,381.0L1238.0,381.0L1238.5,381.1L1239.0,381.1L1239.5,381.2L1240.0,381.3L1240.5,381.5L1241.0,381.6L1241.5,381.7L1242.0,381.9L1242.5,382.1L1243.0,382.2L1243.5,382.4L1244.0,382.6L1244.5,382.8L1245.0,383.0L1245.5,383.1L1246.0,383.3L1246.5,383.5L1247.0,383.6L1247.5,383.8L1248.0,383.9L1248.5,384.0L1249.0,384.1L1249.5,384.2L1250.0,384.3L1250.5,384.3L1251.0,384.4L1251.5,384.5L1252.0,384.5L1252.5,384.6L1253.0,384.6L1253.5,384.7L1254.0,384.7L1254.5,384.8L1255.0,384.8L1255.5,384.9L1256.0,384.9L1256.5,385.0L1257.0,385.0L1257.5,385.0L1258.0,385.1L1258.5,385.1L1259.0,385.2L1259.5,385.2L1260.0,385.2L1260.5,385.3L1261.0,385.3L1261.5,385.3L1262.0,385.4L1262.5,385.4L1263.0,385.4L1263.5,385.5L1264.0,385.5L1264.5,385.5L1265.0,385.5L1265.5,385.5L1266.0,385.6L1266.5,385.6L1267.0,385.6L1267.5,385.6L1268.0,385.5L1268.5,385.5L1269.0,385.4L1269.5,385.3L1270.0,385.1L1270.5,385.0L1271.0,384.9L1271.5,384.7L1272.0,384.5L1272.5,384.4L1273.0,384.2L1273.5,384.0L1274.0,383.8L1274.5,383.6L1275.0,383.4L1275.5,383.2L1276.0,383.0L1276.5,382.8L1277.0,382.6L1277.5,382.5L1278.0,382.3L1278.5,382.1L1279.0,382.0L1279.5,381.9L1280.0,381.7L1280.5,381.6L1281.0,381.5L1281.5,381.5L1282.0,381.4L1282.5,381.4L1283.0,381.4L1283.5,381.4L1284.0,381.4L1284.5,381.4L1285.0,381.4L1285.5,381.4L1286.0,381.5L1286.5,381.6L1287.0,381.7L1287.5,381.9L1288.0,382.1L1288.5,382.4L1289.0,382.7L1289.5,383.0L1290.0,383.4L1290.5,383.7L1291.0,384.2L1291.5,384.6L1292.0,385.0L1292.5,385.5L1293.0,386.0L1293.5,386.5L1294.0,387.0L1294.5,387.4L1295.0,387.9L1295.5,388.4L1296.0,388.9L1296.5,389.4L1297.0,389.9L1297.5,390.3L1298.0,390.7L1298.5,391.2L1299.0,391.5L1299.5,391.9L1300.0,392.2L1300.5,392.5L1301.0,392.8L1301.5,393.0L1302.0,393.1L1302.5,392.9L1303.0,392.7L1303.5,392.4L1304.0,392.1L1304.5,391.7L1305.0,391.3L1305.5,390.8L1306.0,390.3L1306.5,389.8L1307.0,389.3L1307.5,388.7L1308.0,388.1L1308.5,387.5L1309.0,386.9L1309.5,386.4L1310.0,385.8L1310.5,385.2L1311.0,384.6L1311.5,384.0L1312.0,383.4L1312.5,382.9L1313.0,382.4L1313.5,381.9L1314.0,381.4L1314.5,380.9L1315.0,380.4L1315.5,380.0L1316.0,379.6L1316.5,379.3L1317.0,379.0L1317.5,378.8L1318.0,378.6L1318.5,378.4L1319.0,378.3L1319.5,378.2L1320.0,378.2L1320.5,378.2L1321.0,378.2L1321.5,378.2L1322.0,378.2L1322.5,378.2L1323.0,378.3L1323.5,378.4L1324.0,378.5L1324.5,378.7L1325.0,378.9L1325.5,379.2L1326.0,379.5L1326.5,379.9L1327.0,380.2L1327.5,380.6L1328.0,381.0L1328.5,381.5L1329.0,381.9L1329.5,382.4L1330.0,382.9L1330.5,383.4L1331.0,383.8L1331.5,384.3L1332.0,384.8L1332.5,385.3L1333.0,385.8L1333.5,386.2L1334.0,386.7L1334.5,387.1L1335.0,387.5L1335.5,387.8L1336.0,388.2L1336.5,388.5L1337.0,388.8L1337.5,389.0L1338.0,389.1L1338.5,389.1L1339.0,388.9L1339.5,388.7L1340.0,388.5L1340.5,388.3L1341.0,388.0L1341.5,387.8L1342.0,387.5L1342.5,387.2L1343.0,386.9L1343.5,386.6L1344.0,386.2L1344.5,385.9L1345.0,385.6L1345.5,385.3L1346.0,385.0L1346.5,384.7L1347.0,384.5L1347.5,384.2L1348.0,384.0L1348.5,383.8L1349.0,383.6L1349.5,383.4L1350.0,383.2L1350.5,383.1L1351.0,383.1L1351.5,383.0L1352.0,383.0L1352.5,383.0L1353.0,383.0L1353.5,383.0L1354.0,383.0L1354.5,383.0L1355.0,383.0L1355.5,383.1L1356.0,383.2L1356.5,383.3L1357.0,383.4L1357.5,383.6L1358.0,383.7L1358.5,383.9L1359.0,384.1L1359.5,384.3L1360.0,384.5L1360.5,384.8L1361.0,385.0L1361.5,385.2L1362.0,385.5L1362.5,385.7L1363.0,386.0L1363.5,386.3L1364.0,386.5L1364.5,386.7L1365.0,387.0L1365.5,387.2L1366.0,387.4L1366.5,387.6L1367.0,387.8L1367.5,388.0L1368.0,388.2L1368.5,388.3L1369.0,388.4L1369.5,388.5L1370.0,388.4L1370.5,388.3L1371.0,388.2L1371.5,388.1L1372.0,387.9L1372.5,387.8L1373.0,387.6L1373.5,387.4L1374.0,387.2L1374.5,386.9L1375.0,386.7L1375.5,386.5L1376.0,386.3L1376.5,386.0L1377.0,385.8L1377.5,385.6L1378.0,385.4L1378.5,385.2L1379.0,385.0L1379.5,384.8L1380.0,384.6L1380.5,384.4L1381.0,384.3L1381.5,384.2L1382.0,384.1L1382.5,384.0L1383.0,383.9L1383.5,383.9L1384.0,383.9L1384.5,383.9L1385.0,383.9L1385.5,383.9L1386.0,383.9L1386.5,383.9L1387.0,383.9L1387.5,384.0L1388.0,384.0L1388.5,384.1L1389.0,384.1L1389.5,384.2L1390.0,384.3L1390.5,384.4L1391.0,384.6L1391.5,384.7L1392.0,384.8L1392.5,384.9L1393.0,385.1L1393.5,385.2L1394.0,385.3L1394.5,385.5L1395.0,385.6L1395.5,385.7L1396.0,385.9L1396.5,386.0L1397.0,386.1L1397.5,386.2L1398.0,386.3L1398.5,386.4L1399.0,386.5L1399.5,386.5L1400.0,386.5L1400.5,386.5L1401.0,386.4L1401.5,386.4L1402.0,386.3L1402.5,386.2L1403.0,386.1L1403.5,386.1L1404.0,386.0L1404.5,385.9L1405.0,385.8L1405.5,385.7L1406.0,385.6L1406.5,385.4L1407.0,385.3L1407.5,385.2L1408.0,385.1L1408.5,385.0L1409.0,385.0L1409.5,384.9L1410.0,384.8L1410.5,384.7L1411.0,384.7L1411.5,384.6L1412.0,384.6L1412.5,384.5L1413.0,384.5L1413.5,384.5L1414.0,384.5L1414.5,384.5L1415.0,384.5L1415.5,384.5L1416.0,384.5L1416.5,384.5L1417.0,384.5L1417.5,384.5L1418.0,384.5L1418.5,384.5L1419.0,384.5L1419.5,384.5L1420.0,384.5L1420.5,384.5L1421.0,384.5L1421.5,384.5L1422.0,384.5L1422.5,384.5L1423.0,384.5L1423.5,384.5L1424.0,384.5L1424.5,384.6L1425.0,384.6L1425.5,384.6L1426.0,384.6L1426.5,384.6L1427.0,384.6L1427.5,384.6L1428.0,384.7L1428.5,384.7L1429.0,384.7L1429.5,384.7L1430.0,384.7L1430.5,384.8L1431.0,384.8L1431.5,384.8L1432.0,384.9L1432.5,384.9L1433.0,384.9L1433.5,385.0L1434.0,385.0L1434.5,385.1L1435.0,385.1L1435.5,385.2L1436.0,385.2L1436.5,385.3L1437.0,385.3L1437.5,385.4L1438.0,385.4L1438.0,389.6L1437.5,389.6L1437.0,389.6L1436.5,389.6L1436.0,389.5L1435.5,389.4L1435.0,389.4L1434.5,389.3L1434.0,389.3L1433.5,389.2L1433.0,389.2L1432.5,389.1L1432.0,389.1L1431.5,389.0L1431.0,389.0L1430.5,388.9L1430.0,388.9L1429.5,388.9L1429.0,388.8L1428.5,388.8L1428.0,388.8L1427.5,388.7L1427.0,388.7L1426.5,388.7L1426.0,388.7L1425.5,388.7L1425.0,388.6L1424.5,388.6L1424.0,388.6L1423.5,388.6L1423.0,388.6L1422.5,388.6L1422.0,388.6L1421.5,388.5L1421.0,388.5L1420.5,388.5L1420.0,388.5L1419.5,388.5L1419.0,388.5L1418.5,388.5L1418.0,388.5L1417.5,388.5L1417.0,388.5L1416.5,388.5L1416.0,388.5L1415.5,388.5L1415.0,388.5L1414.5,388.6L1414.0,388.6L1413.5,388.7L1413.0,388.7L1412.5,388.8L1412.0,388.9L1411.5,389.0L1411.0,389.0L1410.5,389.1L1410.0,389.2L1409.5,389.3L1409.0,389.4L1408.5,389.6L1408.0,389.7L1407.5,389.8L1407.0,389.9L1406.5,390.0L1406.0,390.1L1405.5,390.1L1405.0,390.2L1404.5,390.3L1404.0,390.4L1403.5,390.4L1403.0,390.5L1402.5,390.5L1402.0,390.6L1401.5,390.6L1401.0,390.6L1400.5,390.6L1400.0,390.6L1399.5,390.6L1399.0,390.6L1398.5,390.6L1398.0,390.6L1397.5,390.6L1397.0,390.5L1396.5,390.5L1396.0,390.4L1395.5,390.3L1395.0,390.2L1394.5,390.1L1394.0,390.0L1393.5,389.9L1393.0,389.7L1392.5,389.6L1392.0,389.5L1391.5,389.3L1391.0,389.2L1390.5,389.1L1390.0,388.9L1389.5,388.8L1389.0,388.7L1388.5,388.6L1388.0,388.4L1387.5,388.3L1387.0,388.2L1386.5,388.1L1386.0,388.1L1385.5,388.0L1385.0,388.0L1384.5,388.1L1384.0,388.2L1383.5,388.3L1383.0,388.4L1382.5,388.6L1382.0,388.8L1381.5,389.0L1381.0,389.2L1380.5,389.4L1380.0,389.6L1379.5,389.8L1379.0,390.1L1378.5,390.3L1378.0,390.5L1377.5,390.7L1377.0,391.0L1376.5,391.2L1376.0,391.4L1375.5,391.6L1375.0,391.8L1374.5,391.9L1374.0,392.1L1373.5,392.2L1373.0,392.3L1372.5,392.4L1372.0,392.5L1371.5,392.6L1371.0,392.6L1370.5,392.6L1370.0,392.6L1369.5,392.6L1369.0,392.6L1368.5,392.6L1368.0,392.6L1367.5,392.6L1367.0,392.5L1366.5,392.4L1366.0,392.3L1365.5,392.2L1365.0,392.0L1364.5,391.8L1364.0,391.6L1363.5,391.4L1363.0,391.2L1362.5,391.0L1362.0,390.8L1361.5,390.5L1361.0,390.3L1360.5,390.1L1360.0,389.8L1359.5,389.5L1359.0,389.3L1358.5,389.0L1358.0,388.8L1357.5,388.6L1357.0,388.3L1356.5,388.1L1356.0,387.9L1355.5,387.7L1355.0,387.6L1354.5,387.4L1354.0,387.3L1353.5,387.2L1353.0,387.1L1352.5,387.2L1352.0,387.4L1351.5,387.6L1351.0,387.8L1350.5,388.0L1350.0,388.3L1349.5,388.5L1349.0,388.8L1348.5,389.1L1348.0,389.4L1347.5,389.7L1347.0,390.0L1346.5,390.4L1346.0,390.7L1345.5,391.0L1345.0,391.3L1344.5,391.6L1344.0,391.8L1343.5,392.1L1343.0,392.3L1342.5,392.5L1342.0,392.7L1341.5,392.9L1341.0,393.1L1340.5,393.2L1340.0,393.2L1339.5,393.3L1339.0,393.3L1338.5,393.3L1338.0,393.3L1337.5,393.3L1337.0,393.3L1336.5,393.3L1336.0,393.2L1335.5,393.1L1335.0,393.0L1334.5,392.8L1334.0,392.6L1333.5,392.3L1333.0,392.0L1332.5,391.6L1332.0,391.3L1331.5,390.9L1331.0,390.5L1330.5,390.0L1330.0,389.6L1329.5,389.1L1329.0,388.6L1328.5,388.1L1328.0,387.6L1327.5,387.2L1327.0,386.7L1326.5,386.2L1326.0,385.7L1325.5,385.3L1325.0,384.8L1324.5,384.4L1324.0,384.0L1323.5,383.7L1323.0,383.3L1322.5,383.0L1322.0,382.7L1321.5,382.5L1321.0,382.4L1320.5,382.6L1320.0,382.8L1319.5,383.1L1319.0,383.4L1318.5,383.8L1318.0,384.2L1317.5,384.7L1317.0,385.2L1316.5,385.7L1316.0,386.2L1315.5,386.8L1315.0,387.4L1314.5,388.0L1314.0,388.6L1313.5,389.1L1313.0,389.7L1312.5,390.3L1312.0,390.9L1311.5,391.5L1311.0,392.1L1310.5,392.6L1310.0,393.1L1309.5,393.6L1309.0,394.1L1308.5,394.6L1308.0,395.1L1307.5,395.5L1307.0,395.9L1306.5,396.2L1306.0,396.5L1305.5,396.7L1305.0,396.9L1304.5,397.1L1304.0,397.2L1303.5,397.3L1303.0,397.3L1302.5,397.3L1302.0,397.3L1301.5,397.3L1301.0,397.3L1300.5,397.3L1300.0,397.2L1299.5,397.1L1299.0,397.0L1298.5,396.8L1298.0,396.6L1297.5,396.3L1297.0,396.0L1296.5,395.7L1296.0,395.3L1295.5,395.0L1295.0,394.5L1294.5,394.1L1294.0,393.7L1293.5,393.2L1293.0,392.7L1292.5,392.2L1292.0,391.7L1291.5,391.2L1291.0,390.8L1290.5,390.3L1290.0,389.8L1289.5,389.3L1289.0,388.8L1288.5,388.4L1288.0,388.0L1287.5,387.5L1287.0,387.2L1286.5,386.8L1286.0,386.5L1285.5,386.2L1285.0,385.9L1284.5,385.7L1284.0,385.6L1283.5,385.5L1283.0,385.6L1282.5,385.7L1282.0,385.9L1281.5,386.0L1281.0,386.1L1280.5,386.3L1280.0,386.5L1279.5,386.6L1279.0,386.8L1278.5,387.0L1278.0,387.2L1277.5,387.4L1277.0,387.6L1276.5,387.8L1276.0,388.0L1275.5,388.2L1275.0,388.4L1274.5,388.5L1274.0,388.7L1273.5,388.9L1273.0,389.0L1272.5,389.1L1272.0,389.3L1271.5,389.4L1271.0,389.5L1270.5,389.5L1270.0,389.6L1269.5,389.6L1269.0,389.6L1268.5,389.6L1268.0,389.6L1267.5,389.6L1267.0,389.6L1266.5,389.6L1266.0,389.6L1265.5,389.6L1265.0,389.6L1264.5,389.6L1264.0,389.6L1263.5,389.6L1263.0,389.5L1262.5,389.5L1262.0,389.5L1261.5,389.5L1261.0,389.5L1260.5,389.4L1260.0,389.4L1259.5,389.4L1259.0,389.3L1258.5,389.3L1258.0,389.3L1257.5,389.2L1257.0,389.2L1256.5,389.2L1256.0,389.1L1255.5,389.1L1255.0,389.0L1254.5,389.0L1254.0,389.0L1253.5,388.9L1253.0,388.9L1252.5,388.8L1252.0,388.8L1251.5,388.7L1251.0,388.7L1250.5,388.6L1250.0,388.6L1249.5,388.5L1249.0,388.5L1248.5,388.4L1248.0,388.3L1247.5,388.3L1247.0,388.2L1246.5,388.1L1246.0,388.0L1245.5,387.9L1245.0,387.8L1244.5,387.6L1244.0,387.5L1243.5,387.3L1243.0,387.1L1242.5,387.0L1242.0,386.8L1241.5,386.6L1241.0,386.4L1240.5,386.2L1240.0,386.1L1239.5,385.9L1239.0,385.7L1238.5,385.6L1238.0,385.5L1237.5,385.3L1237.0,385.2L1236.5,385.1L1236.0,385.3L1235.5,385.6L1235.0,385.9L1234.5,386.3L1234.0,386.8L1233.5,387.4L1233.0,388.0L1232.5,388.6L1232.0,389.3L1231.5,390.0L1231.0,390.7L1230.5,391.5L1230.0,392.2L1229.5,393.0L1229.0,393.8L1228.5,394.5L1228.0,395.3L1227.5,396.0L1227.0,396.7L1226.5,397.4L1226.0,398.0L1225.5,398.6L1225.0,399.2L1224.5,399.7L1224.0,400.2L1223.5,400.7L1223.0,401.1L1222.5,401.4L1222.0,401.7L1221.5,401.9L1221.0,402.1L1220.5,402.2L1220.0,402.2L1219.5,402.2L1219.0,402.2L1218.5,402.2L1218.0,402.2L1217.5,402.2L1217.0,402.1L1216.5,401.9L1216.0,401.6L1215.5,401.2L1215.0,400.8L1214.5,400.3L1214.0,399.7L1213.5,399.1L1213.0,398.4L1212.5,397.7L1212.0,396.9L1211.5,396.0L1211.0,395.1L1210.5,394.2L1210.0,393.2L1209.5,392.2L1209.0,391.2L1208.5,390.2L1208.0,389.2L1207.5,388.2L1207.0,387.2L1206.5,386.2L1206.0,385.2L1205.5,384.3L1205.0,383.4L1204.5,382.6L1204.0,381.8L1203.5,381.0L1203.0,380.4L1202.5,379.7L1202.0,379.3L1201.5,379.4L1201.0,380.1L1200.5,380.9L1200.0,381.8L1199.5,382.8L1199.0,383.9L1198.5,385.1L1198.0,386.3L1197.5,387.6L1197.0,389.0L1196.5,390.3L1196.0,391.7L1195.5,393.1L1195.0,394.5L1194.5,395.9L1194.0,397.2L1193.5,398.5L1193.0,399.8L1192.5,401.0L1192.0,402.2L1191.5,403.3L1191.0,404.3L1190.5,405.2L1190.0,406.0L1189.5,406.6L1189.0,407.2L1188.5,407.7L1188.0,408.1L1187.5,408.3L1187.0,408.5L1186.5,408.5L1186.0,408.5L1185.5,408.5L1185.0,408.5L1184.5,408.5L1184.0,408.4L1183.5,408.3L1183.0,407.9L1182.5,407.4L1182.0,406.8L1181.5,406.0L1181.0,405.0L1180.5,403.8L1180.0,402.5L1179.5,401.0L1179.0,399.3L1178.5,397.6L1178.0,395.7L1177.5,393.8L1177.0,391.8L1176.5,389.7L1176.0,387.6L1175.5,385.5L1175.0,383.4L1174.5,381.3L1174.0,379.2L1173.5,377.1L1173.0,375.1L1172.5,373.2L1172.0,371.4L1171.5,369.6L1171.0,368.0L1170.5,366.6L1170.0,365.2L1169.5,364.1L1169.0,363.9L1168.5,365.1L1168.0,366.6L1167.5,368.2L1167.0,370.0L1166.5,372.0L1166.0,374.1L1165.5,376.3L1165.0,378.6L1164.5,381.0L1164.0,383.5L1163.5,386.0L1163.0,388.5L1162.5,391.0L1162.0,393.5L1161.5,396.0L1161.0,398.4L1160.5,400.8L1160.0,403.0L1159.5,405.2L1159.0,407.2L1158.5,409.1L1158.0,410.8L1157.5,412.3L1157.0,413.6L1156.5,414.8L1156.0,415.6L1155.5,416.2L1155.0,416.7L1154.5,417.0L1154.0,417.2L1153.5,417.2L1153.0,417.2L1152.5,417.2L1152.0,417.2L1151.5,417.2L1151.0,417.1L1150.5,416.7L1150.0,416.2L1149.5,415.5L1149.0,414.5L1148.5,413.2L1148.0,411.6L1147.5,409.7L1147.0,407.6L1146.5,405.3L1146.0,402.8L1145.5,400.2L1145.0,397.4L1144.5,394.6L1144.0,391.6L1143.5,388.7L1143.0,385.6L1142.5,382.6L1142.0,379.7L1141.5,376.7L1141.0,373.9L1140.5,371.1L1140.0,368.5L1139.5,366.0L1139.0,363.7L1138.5,361.6L1138.0,359.7L1137.5,358.1L1137.0,358.5L1136.5,360.3L1136.0,362.3L1135.5,364.5L1135.0,367.0L1134.5,369.7L1134.0,372.5L1133.5,375.5L1133.0,378.7L1132.5,381.9L1132.0,385.3L1131.5,388.7L1131.0,392.1L1130.5,395.6L1130.0,399.1L1129.5,402.5L1129.0,405.9L1128.5,409.2L1128.0,412.4L1127.5,415.5L1127.0,418.4L1126.5,421.2L1126.0,423.8L1125.5,426.2L1125.0,428.4L1124.5,430.3L1124.0,431.9L1123.5,433.2L1123.0,434.2L1122.5,434.8L1122.0,435.3L1121.5,435.6L1121.0,435.7L1120.5,435.7L1120.0,435.7L1119.5,435.7L1119.0,435.7L1118.5,435.6L1118.0,435.4L1117.5,434.9L1117.0,434.3L1116.5,433.1L1116.0,431.5L1115.5,429.5L1115.0,427.1L1114.5,424.3L1114.0,421.2L1113.5,417.9L1113.0,414.3L1112.5,410.4L1112.0,406.4L1111.5,402.2L1111.0,397.9L1110.5,393.5L1110.0,389.0L1109.5,384.5L1109.0,380.0L1108.5,375.5L1108.0,371.1L1107.5,366.9L1107.0,362.7L1106.5,358.7L1106.0,354.9L1105.5,351.3L1105.0,348.0L1104.5,345.0L1104.0,342.3L1103.5,340.0L1103.0,339.3L1102.5,341.4L1102.0,343.8L1101.5,346.6L1101.0,349.7L1100.5,353.0L1100.0,356.6L1099.5,360.3L1099.0,364.2L1098.5,368.3L1098.0,372.5L1097.5,376.8L1097.0,381.1L1096.5,385.5L1096.0,389.9L1095.5,394.2L1095.0,398.5L1094.5,402.7L1094.0,406.8L1093.5,410.7L1093.0,414.4L1092.5,418.0L1092.0,421.3L1091.5,424.4L1091.0,427.2L1090.5,429.6L1090.0,431.7L1089.5,433.5L1089.0,434.8L1088.5,435.7L1088.0,436.2L1087.5,436.7L1087.0,436.8L1086.5,436.8L1086.0,436.8L1085.5,436.8L1085.0,436.8L1084.5,436.7L1084.0,436.6L1083.5,436.1L1083.0,435.6L1082.5,434.7L1082.0,433.4L1081.5,431.8L1081.0,429.8L1080.5,427.6L1080.0,425.0L1079.5,422.2L1079.0,419.2L1078.5,416.0L1078.0,412.6L1077.5,409.1L1077.0,405.5L1076.5,401.8L1076.0,398.0L1075.5,394.3L1075.0,390.5L1074.5,386.8L1074.0,383.1L1073.5,379.5L1073.0,376.0L1072.5,372.7L1072.0,369.5L1071.5,366.5L1071.0,363.8L1070.5,361.3L1070.0,359.0L1069.5,357.1L1069.0,357.7L1068.5,359.8L1068.0,362.2L1067.5,364.8L1067.0,367.8L1066.5,371.0L1066.0,374.4L1065.5,377.9L1065.0,381.6L1064.5,385.5L1064.0,389.4L1063.5,393.4L1063.0,397.4L1062.5,401.5L1062.0,405.5L1061.5,409.5L1061.0,413.4L1060.5,417.2L1060.0,420.8L1059.5,424.3L1059.0,427.6L1058.5,430.7L1058.0,433.6L1057.5,436.1L1057.0,438.4L1056.5,440.3L1056.0,441.9L1055.5,443.1L1055.0,443.9L1054.5,444.4L1054.0,444.7L1053.5,444.8L1053.0,444.8L1052.5,444.8L1052.0,444.8L1051.5,444.8L1051.0,444.7L1050.5,444.5L1050.0,444.0L1049.5,443.3L1049.0,442.2L1048.5,440.5L1048.0,438.4L1047.5,435.9L1047.0,433.1L1046.5,429.9L1046.0,426.4L1045.5,422.7L1045.0,418.7L1044.5,414.5L1044.0,410.1L1043.5,405.5L1043.0,400.9L1042.5,396.2L1042.0,391.4L1041.5,386.6L1041.0,381.8L1040.5,377.0L1040.0,372.4L1039.5,367.8L1039.0,363.4L1038.5,359.2L1038.0,355.1L1037.5,351.3L1037.0,347.8L1036.5,344.5L1036.0,341.6L1035.5,339.0L1035.0,337.4L1034.5,339.8L1034.0,342.7L1033.5,346.0L1033.0,349.6L1032.5,353.6L1032.0,357.8L1031.5,362.3L1031.0,367.0L1030.5,371.9L1030.0,377.0L1029.5,382.1L1029.0,387.3L1028.5,392.5L1028.0,397.8L1027.5,403.0L1027.0,408.1L1026.5,413.1L1026.0,417.9L1025.5,422.5L1025.0,426.9L1024.5,431.1L1024.0,434.9L1023.5,438.4L1023.0,441.5L1022.5,444.2L1022.0,446.4L1021.5,448.2L1021.0,449.4L1020.5,450.1L1020.0,450.6L1019.5,450.7L1019.0,450.7L1018.5,450.7L1018.0,450.7L1017.5,450.7L1017.0,450.7L1016.5,450.6L1016.0,450.1L1015.5,449.3L1015.0,447.7L1014.5,445.2L1014.0,442.0L1013.5,438.2L1013.0,433.7L1012.5,428.7L1012.0,423.2L1011.5,417.2L1011.0,410.9L1010.5,404.2L1010.0,397.3L1009.5,390.1L1009.0,382.9L1008.5,375.5L1008.0,368.1L1007.5,360.7L1007.0,353.5L1006.5,346.3L1006.0,339.4L1005.5,332.7L1005.0,326.4L1004.5,320.4L1004.0,314.9L1003.5,309.9L1003.0,305.4L1002.5,301.6L1002.0,303.2L1001.5,307.6L1001.0,312.7L1000.5,318.3L1000.0,324.6L999.5,331.4L999.0,338.6L998.5,346.1L998.0,354.0L997.5,362.2L997.0,370.5L996.5,379.0L996.0,387.6L995.5,396.2L995.0,404.7L994.5,413.1L994.0,421.4L993.5,429.5L993.0,437.2L992.5,444.7L992.0,451.7L991.5,458.3L991.0,464.3L990.5,469.8L990.0,474.6L989.5,478.7L989.0,482.0L988.5,484.5L988.0,486.2L987.5,486.9L987.0,487.4L986.5,487.5L986.0,487.5L985.5,487.5L985.0,487.5L984.5,487.5L984.0,487.4L983.5,487.0L983.0,486.5L982.5,485.0L982.0,482.5L981.5,478.9L981.0,474.4L980.5,469.1L980.0,462.9L979.5,456.1L979.0,448.5L978.5,440.4L978.0,431.8L977.5,422.8L977.0,413.4L976.5,403.6L976.0,393.7L975.5,383.6L975.0,373.3L974.5,363.1L974.0,352.9L973.5,342.8L973.0,332.9L972.5,323.3L972.0,314.0L971.5,305.0L971.0,296.6L970.5,288.6L970.0,281.3L969.5,274.7L969.0,268.7L968.5,263.6L968.0,267.6L967.5,274.5L967.0,282.6L966.5,291.6L966.0,301.6L965.5,312.5L965.0,324.1L964.5,336.4L964.0,349.2L963.5,362.6L963.0,376.3L962.5,390.3L962.0,404.6L961.5,419.0L961.0,433.4L960.5,447.7L960.0,461.9L959.5,475.8L959.0,489.5L958.5,502.7L958.0,515.4L957.5,527.4L957.0,538.8L956.5,549.5L956.0,559.2L955.5,568.0L955.0,575.7L954.5,582.3L954.0,587.6L953.5,591.7L953.0,594.3L952.5,595.4L952.0,595.9L951.5,596.0L951.0,596.0L950.5,596.0L950.0,596.0L949.5,596.0L949.0,595.9L948.5,595.4L948.0,594.9L947.5,593.1L947.0,590.0L946.5,585.6L946.0,580.0L945.5,573.3L945.0,565.6L944.5,557.0L944.0,547.4L943.5,537.0L943.0,525.8L942.5,514.0L942.0,501.6L941.5,488.6L941.0,475.1L940.5,461.3L940.0,447.1L939.5,432.7L939.0,418.1L938.5,403.4L938.0,388.6L937.5,373.9L937.0,359.2L936.5,344.7L936.0,330.5L935.5,316.6L935.0,303.1L934.5,290.0L934.0,277.4L933.5,265.5L933.0,254.2L932.5,243.6L932.0,233.9L931.5,225.0L931.0,217.1L930.5,210.2L930.0,204.4L929.5,207.8L929.0,213.6L928.5,220.1L928.0,227.4L927.5,235.3L927.0,243.8L926.5,252.7L926.0,262.0L925.5,271.7L925.0,281.5L924.5,291.6L924.0,301.7L923.5,311.8L923.0,321.8L922.5,331.6L922.0,341.2L921.5,350.5L921.0,359.4L920.5,367.8L920.0,375.7L919.5,382.9L919.0,389.4L918.5,395.6L918.0,402.0L917.5,408.5L917.0,415.1L916.5,421.8L916.0,428.6L915.5,435.4L915.0,442.3L914.5,449.1L914.0,456.0L913.5,462.7L913.0,469.4L912.5,476.1L912.0,482.5L911.5,488.9L911.0,495.1L910.5,501.1L910.0,506.8L909.5,512.4L909.0,517.7L908.5,522.7L908.0,527.3L907.5,531.7L907.0,535.7L906.5,539.3L906.0,542.5L905.5,545.3L905.0,547.6L904.5,549.4L904.0,550.8L903.5,551.6L903.0,552.1L902.5,552.4L902.0,552.5L901.5,552.5L901.0,552.5L900.5,552.5L900.0,552.5L899.5,552.4L899.0,552.1L898.5,551.6L898.0,550.7L897.5,549.2L897.0,547.2L896.5,544.7L896.0,541.6L895.5,538.1L895.0,534.1L894.5,529.7L894.0,524.9L893.5,519.6L893.0,514.0L892.5,508.0L892.0,501.7L891.5,495.1L891.0,488.2L890.5,481.0L890.0,473.5L889.5,465.9L889.0,458.0L888.5,450.0L888.0,441.8L887.5,433.4L887.0,425.0L886.5,416.4L886.0,407.8L885.5,399.1L885.0,390.4L884.5,381.7L884.0,372.9L883.5,364.3L883.0,355.6L882.5,347.1L882.0,338.6L881.5,330.3L881.0,322.1L880.5,314.0L880.0,306.2L879.5,298.5L879.0,291.1L878.5,283.9L878.0,277.0L877.5,270.4L877.0,264.0L876.5,258.1L876.0,252.4L875.5,247.2L875.0,242.4L874.5,237.9L874.0,233.9L873.5,230.4L873.0,227.4L872.5,224.8L872.0,224.5L871.5,226.4L871.0,228.5L870.5,230.9L870.0,233.6L869.5,236.5L869.0,239.7L868.5,243.0L868.0,246.6L867.5,250.4L867.0,254.4L866.5,258.5L866.0,262.8L865.5,267.3L865.0,271.8L864.5,276.5L864.0,281.3L863.5,286.2L863.0,291.1L862.5,296.1L862.0,301.2L861.5,306.3L861.0,311.4L860.5,316.5L860.0,321.6L859.5,326.7L859.0,331.7L858.5,336.7L858.0,341.7L857.5,346.5L857.0,351.3L856.5,356.0L856.0,360.6L855.5,365.0L855.0,369.3L854.5,373.4L854.0,377.4L853.5,381.2L853.0,384.7L852.5,388.1L852.0,391.3L851.5,394.6L851.0,398.0L850.5,401.4L850.0,404.9L849.5,408.5L849.0,412.1L848.5,415.8L848.0,419.4L847.5,423.1L847.0,426.8L846.5,430.5L846.0,434.1L845.5,437.8L845.0,441.3L844.5,444.9L844.0,448.3L843.5,451.7L843.0,455.0L842.5,458.2L842.0,461.3L841.5,464.3L841.0,467.1L840.5,469.8L840.0,472.3L839.5,474.7L839.0,476.9L838.5,478.9L838.0,480.8L837.5,482.4L837.0,483.8L836.5,484.9L836.0,485.9L835.5,486.5L835.0,487.0L834.5,487.5L834.0,487.6L833.5,487.7L833.0,487.7L832.5,487.7L832.0,487.7L831.5,487.7L831.0,487.6L830.5,487.5L830.0,487.1L829.5,486.6L829.0,486.0L828.5,485.2L828.0,484.2L827.5,483.1L827.0,481.8L826.5,480.4L826.0,478.9L825.5,477.3L825.0,475.7L824.5,474.0L824.0,472.3L823.5,470.6L823.0,468.9L822.5,467.0L822.0,464.7L821.5,462.1L821.0,459.2L820.5,456.2L820.0,453.1L819.5,450.0L819.0,447.0L818.5,444.1L818.0,441.5L817.5,439.2L817.0,437.2L816.5,435.7L816.0,434.2L815.5,432.7L815.0,431.3L814.5,430.0L814.0,428.7L813.5,427.6L813.0,426.5L812.5,425.6L812.0,424.8L811.5,424.2L811.0,423.9L810.5,423.8L810.0,423.7L809.5,423.6L809.0,423.5L808.5,423.4L808.0,423.3L807.5,423.3L807.0,423.2L806.5,423.2L806.0,423.1L805.5,423.1L805.0,423.0L804.5,423.0L804.0,422.9L803.5,422.8L803.0,422.6L802.5,422.5L802.0,422.3L801.5,422.0L801.0,421.7L800.5,421.2L800.0,420.7L799.5,420.2L799.0,419.6L798.5,418.9L798.0,418.2L797.5,417.4L797.0,416.6L796.5,415.7L796.0,414.8L795.5,413.9L795.0,412.8L794.5,411.6L794.0,410.1L793.5,408.5L793.0,406.7L792.5,404.8L792.0,402.9L791.5,400.8L791.0,398.7L790.5,396.6L790.0,394.4L789.5,392.3L789.0,390.3L788.5,388.3L788.0,386.4L787.5,384.5L787.0,382.6L786.5,380.6L786.0,378.7L785.5,376.7L785.0,374.6L784.5,372.7L784.0,370.7L783.5,368.8L783.0,366.9L782.5,365.1L782.0,363.4L781.5,361.8L781.0,360.3L780.5,358.9L780.0,357.6L779.5,356.4L779.0,355.2L778.5,354.0L778.0,352.9L777.5,351.9L777.0,350.8L776.5,349.8L776.0,348.8L775.5,347.9L775.0,346.9L774.5,346.0L774.0,345.1L773.5,344.2L773.0,343.3L772.5,342.4L772.0,341.6L771.5,340.7L771.0,339.8L770.5,338.9L770.0,338.0L769.5,337.1L769.0,336.2L768.5,335.3L768.0,334.4L767.5,333.5L767.0,332.6L766.5,331.7L766.0,330.9L765.5,330.0L765.0,329.2L764.5,328.4L764.0,327.6L763.5,326.8L763.0,326.0L762.5,325.3L762.0,324.6L761.5,323.9L761.0,323.3L760.5,322.6L760.0,322.0L759.5,321.4L759.0,320.7L758.5,320.1L758.0,319.4L757.5,318.8L757.0,318.2L756.5,317.7L756.0,317.3L755.5,317.5L755.0,318.1L754.5,318.7L754.0,319.5L753.5,320.2L753.0,321.0L752.5,321.8L752.0,322.6L751.5,323.5L751.0,324.5L750.5,325.5L750.0,326.6L749.5,327.9L749.0,329.2L748.5,330.6L748.0,332.0L747.5,333.6L747.0,335.2L746.5,336.8L746.0,338.5L745.5,340.3L745.0,342.1L744.5,343.9L744.0,345.8L743.5,348.0L743.0,350.2L742.5,352.6L742.0,355.2L741.5,357.8L741.0,360.5L740.5,363.4L740.0,366.2L739.5,369.2L739.0,372.1L738.5,375.1L738.0,378.0L737.5,381.0L737.0,383.9L736.5,386.9L736.0,389.9L735.5,393.1L735.0,396.3L734.5,399.5L734.0,402.9L733.5,406.2L733.0,409.5L732.5,412.8L732.0,416.1L731.5,419.3L731.0,422.5L730.5,425.6L730.0,428.5L729.5,431.4L729.0,434.2L728.5,437.2L728.0,440.1L727.5,443.1L727.0,446.0L726.5,449.0L726.0,451.8L725.5,454.6L725.0,457.2L724.5,459.7L724.0,462.0L723.5,464.1L723.0,466.0L722.5,467.6L722.0,468.9L721.5,470.1L721.0,471.2L720.5,472.3L720.0,473.4L719.5,474.4L719.0,475.4L718.5,476.3L718.0,477.1L717.5,477.8L717.0,478.4L716.5,478.9L716.0,479.4L715.5,479.8L715.0,480.0L714.5,480.2L714.0,480.2L713.5,480.2L713.0,480.2L712.5,480.2L712.0,480.2L711.5,480.2L711.0,480.0L710.5,479.8L710.0,479.5L709.5,479.1L709.0,478.6L708.5,478.1L708.0,477.5L707.5,476.8L707.0,476.1L706.5,475.4L706.0,474.7L705.5,473.9L705.0,473.1L704.5,472.1L704.0,471.0L703.5,469.7L703.0,468.4L702.5,466.9L702.0,465.4L701.5,463.8L701.0,462.1L700.5,460.4L700.0,458.6L699.5,456.8L699.0,455.0L698.5,453.2L698.0,451.4L697.5,449.6L697.0,447.7L696.5,445.7L696.0,443.7L695.5,441.6L695.0,439.4L694.5,437.2L694.0,435.0L693.5,432.7L693.0,430.4L692.5,428.0L692.0,425.6L691.5,423.2L691.0,420.8L690.5,418.4L690.0,416.0L689.5,413.6L689.0,411.2L688.5,408.8L688.0,406.4L687.5,404.0L687.0,401.5L686.5,398.9L686.0,396.3L685.5,393.7L685.0,391.0L684.5,388.3L684.0,385.5L683.5,382.8L683.0,380.1L682.5,377.4L682.0,374.8L681.5,372.2L681.0,369.7L680.5,367.2L680.0,364.8L679.5,362.5L679.0,360.4L678.5,358.3L678.0,356.4L677.5,354.5L677.0,352.7L676.5,350.9L676.0,349.1L675.5,347.3L675.0,345.6L674.5,343.9L674.0,342.3L673.5,340.8L673.0,339.3L672.5,338.0L672.0,336.8L671.5,335.7L671.0,334.7L670.5,333.9L670.0,333.2L669.5,332.4L669.0,331.7L668.5,331.0L668.0,330.3L667.5,329.6L667.0,329.0L666.5,328.5L666.0,328.0L665.5,327.6L665.0,328.1L664.5,328.9L664.0,329.8L663.5,330.9L663.0,332.0L662.5,333.1L662.0,334.2L661.5,335.4L661.0,336.5L660.5,337.5L660.0,338.5L659.5,339.5L659.0,340.5L658.5,341.5L658.0,342.6L657.5,343.7L657.0,344.8L656.5,345.9L656.0,347.0L655.5,348.1L655.0,349.3L654.5,350.4L654.0,351.6L653.5,352.8L653.0,353.9L652.5,355.1L652.0,356.2L651.5,357.4L651.0,358.5L650.5,359.6L650.0,360.7L649.5,361.8L649.0,362.9L648.5,364.0L648.0,365.0L647.5,366.0L647.0,367.1L646.5,368.1L646.0,369.1L645.5,370.1L645.0,371.1L644.5,372.1L644.0,373.0L643.5,374.0L643.0,375.0L642.5,375.9L642.0,376.9L641.5,377.9L641.0,378.8L640.5,379.8L640.0,380.8L639.5,381.7L639.0,382.7L638.5,383.6L638.0,384.6L637.5,385.6L637.0,386.5L636.5,387.5L636.0,388.5L635.5,389.5L635.0,390.5L634.5,391.6L634.0,392.7L633.5,393.8L633.0,395.0L632.5,396.1L632.0,397.3L631.5,398.5L631.0,399.6L630.5,400.8L630.0,402.0L629.5,403.1L629.0,404.2L628.5,405.3L628.0,406.4L627.5,407.4L627.0,408.4L626.5,409.3L626.0,410.2L625.5,411.0L625.0,411.8L624.5,412.5L624.0,413.1L623.5,413.6L623.0,414.1L622.5,414.6L622.0,415.0L621.5,415.5L621.0,415.9L620.5,416.3L620.0,416.7L619.5,417.1L619.0,417.5L618.5,417.9L618.0,418.2L617.5,418.5L617.0,418.8L616.5,419.0L616.0,419.2L615.5,419.4L615.0,419.5L614.5,419.6L614.0,419.7L613.5,419.7L613.0,419.7L612.5,419.7L612.0,419.7L611.5,419.7L611.0,419.7L610.5,419.6L610.0,419.5L609.5,419.3L609.0,419.0L608.5,418.7L608.0,418.4L607.5,418.0L607.0,417.6L606.5,417.2L606.0,416.7L605.5,416.2L605.0,415.8L604.5,415.3L604.0,414.8L603.5,414.4L603.0,414.0L602.5,413.5L602.0,413.0L601.5,412.5L601.0,411.9L600.5,411.4L600.0,410.8L599.5,410.2L599.0,409.6L598.5,409.0L598.0,408.3L597.5,407.7L597.0,407.0L596.5,406.4L596.0,405.7L595.5,405.0L595.0,404.4L594.5,403.7L594.0,403.1L593.5,402.4L593.0,401.8L592.5,401.2L592.0,400.6L591.5,400.0L591.0,399.4L590.5,398.9L590.0,398.4L589.5,397.9L589.0,397.3L588.5,396.8L588.0,396.3L587.5,395.7L587.0,395.2L586.5,394.7L586.0,394.2L585.5,393.6L585.0,393.1L584.5,392.6L584.0,392.1L583.5,391.6L583.0,391.1L582.5,390.7L582.0,390.2L581.5,389.8L581.0,389.3L580.5,388.9L580.0,388.5L579.5,388.1L579.0,387.7L578.5,387.3L578.0,386.9L577.5,386.6L577.0,386.3L576.5,385.9L576.0,385.6L575.5,385.4L575.0,385.1L574.5,384.8L574.0,384.5L573.5,384.2L573.0,383.9L572.5,383.6L572.0,383.3L571.5,383.1L571.0,382.9L570.5,382.6L570.0,382.5L569.5,382.3L569.0,382.2L568.5,382.1L568.0,382.1L567.5,382.2L567.0,382.3L566.5,382.4L566.0,382.5L565.5,382.6L565.0,382.8L564.5,382.9L564.0,383.1L563.5,383.2L563.0,383.4L562.5,383.6L562.0,383.7L561.5,383.9L561.0,384.1L560.5,384.4L560.0,384.7L559.5,385.1L559.0,385.5L558.5,385.9L558.0,386.4L557.5,386.8L557.0,387.3L556.5,387.7L556.0,388.2L555.5,388.6L555.0,389.0L554.5,389.3L554.0,389.7L553.5,389.9L553.0,390.1L552.5,390.3L552.0,390.6L551.5,390.8L551.0,391.0L550.5,391.2L550.0,391.4L549.5,391.6L549.0,391.7L548.5,391.9L548.0,392.0L547.5,392.2L547.0,392.3L546.5,392.4L546.0,392.4L545.5,392.5L545.0,392.5L544.5,392.5L544.0,392.5L543.5,392.5L543.0,392.5L542.5,392.5L542.0,392.5L541.5,392.4L541.0,392.3L540.5,392.2L540.0,392.1L539.5,391.9L539.0,391.7L538.5,391.5L538.0,391.3L537.5,391.1L537.0,390.8L536.5,390.6L536.0,390.3L535.5,390.0L535.0,389.8L534.5,389.5L534.0,389.2L533.5,388.9L533.0,388.7L532.5,388.4L532.0,388.1L531.5,387.9L531.0,387.7L530.5,387.4L530.0,387.1L529.5,386.9L529.0,386.6L528.5,386.3L528.0,386.0L527.5,385.7L527.0,385.4L526.5,385.1L526.0,384.8L525.5,384.5L525.0,384.2L524.5,384.0L524.0,383.7L523.5,383.4L523.0,383.2L522.5,383.0L522.0,382.8L521.5,382.6L521.0,382.4L520.5,382.3L520.0,382.1L519.5,381.9L519.0,381.8L518.5,381.6L518.0,381.5L517.5,381.3L517.0,381.2L516.5,381.1L516.0,380.9L515.5,380.8L515.0,380.7L514.5,380.7L514.0,380.6L513.5,380.6L513.0,380.6L512.5,380.7L512.0,380.8L511.5,380.8L511.0,380.9L510.5,381.0L510.0,381.1L509.5,381.3L509.0,381.4L508.5,381.5L508.0,381.6L507.5,381.7L507.0,381.8L506.5,381.9L506.0,382.1L505.5,382.2L505.0,382.3L504.5,382.4L504.0,382.5L503.5,382.6L503.0,382.8L502.5,382.9L502.0,383.0L501.5,383.2L501.0,383.3L500.5,383.5L500.0,383.6L499.5,383.8L499.0,383.9L498.5,384.1L498.0,384.2L497.5,384.4L497.0,384.6L496.5,384.8L496.0,384.9L495.5,385.1L495.0,385.3L494.5,385.5L494.0,385.7L493.5,385.9L493.0,386.1L492.5,386.4L492.0,386.7L491.5,386.9L491.0,387.2L490.5,387.5L490.0,387.8L489.5,388.2L489.0,388.5L488.5,388.8L488.0,389.2L487.5,389.5L487.0,389.8L486.5,390.1L486.0,390.5L485.5,390.8L485.0,391.1L484.5,391.4L484.0,391.6L483.5,391.9L483.0,392.2L482.5,392.4L482.0,392.7L481.5,393.0L481.0,393.2L480.5,393.5L480.0,393.8L479.5,394.0L479.0,394.3L478.5,394.6L478.0,394.8L477.5,395.1L477.0,395.3L476.5,395.5L476.0,395.8L475.5,396.0L475.0,396.2L474.5,396.4L474.0,396.5L473.5,396.7L473.0,396.8L472.5,396.9L472.0,397.1L471.5,397.2L471.0,397.3L470.5,397.4L470.0,397.4L469.5,397.5L469.0,397.6L468.5,397.7L468.0,397.8L467.5,397.8L467.0,397.9L466.5,397.9L466.0,398.0L465.5,398.0L465.0,398.0L464.5,398.0L464.0,398.0L463.5,398.0L463.0,398.0L462.5,398.0L462.0,398.0L461.5,398.0L461.0,397.9L460.5,397.9L460.0,397.8L459.5,397.8L459.0,397.7L458.5,397.6L458.0,397.5L457.5,397.4L457.0,397.2L456.5,397.1L456.0,397.0L455.5,396.9L455.0,396.7L454.5,396.6L454.0,396.4L453.5,396.3L453.0,396.2L452.5,396.0L452.0,395.9L451.5,395.7L451.0,395.6L450.5,395.4L450.0,395.3L449.5,395.2L449.0,395.1L448.5,394.9L448.0,394.8L447.5,394.7L447.0,394.6L446.5,394.5L446.0,394.4L445.5,394.2L445.0,394.1L444.5,394.0L444.0,393.9L443.5,393.8L443.0,393.7L442.5,393.5L442.0,393.4L441.5,393.3L441.0,393.2L440.5,393.1L440.0,392.9L439.5,392.8L439.0,392.7L438.5,392.6L438.0,392.4L437.5,392.3L437.0,392.2L436.5,392.1L436.0,391.9L435.5,391.8L435.0,391.6L434.5,391.5L434.0,391.4L433.5,391.2L433.0,391.1L432.5,390.9L432.0,390.7L431.5,390.6L431.0,390.4L430.5,390.2L430.0,390.0L429.5,389.8L429.0,389.6L428.5,389.4L428.0,389.2L427.5,389.0L427.0,388.8L426.5,388.6L426.0,388.4L425.5,388.2L425.0,388.0L424.5,387.8L424.0,387.6L423.5,387.4L423.0,387.3L422.5,387.1L422.0,387.0L421.5,386.8L421.0,386.7L420.5,386.6L420.0,386.5L419.5,386.4L419.0,386.3L418.5,386.3L418.0,386.2L417.5,386.2L417.0,386.1L416.5,386.1L416.0,386.0L415.5,386.0L415.0,386.0L414.5,385.9L414.0,385.9L413.5,385.9L413.0,385.8L412.5,385.8L412.0,385.8L411.5,385.8L411.0,385.9L410.5,385.9L410.0,385.9L409.5,386.0L409.0,386.0L408.5,386.0L408.0,386.1L407.5,386.1L407.0,386.2L406.5,386.2L406.0,386.3L405.5,386.3L405.0,386.4L404.5,386.5L404.0,386.5L403.5,386.6L403.0,386.6L402.5,386.7L402.0,386.8L401.5,386.8L401.0,386.9L400.5,387.0L400.0,387.0L399.5,387.1L399.0,387.2L398.5,387.2L398.0,387.3L397.5,387.4L397.0,387.4L396.5,387.5L396.0,387.5L395.5,387.6L395.0,387.7L394.5,387.7L394.0,387.8L393.5,387.9L393.0,387.9L392.5,388.0L392.0,388.1L391.5,388.2L391.0,388.3L390.5,388.3L390.0,388.4L389.5,388.5L389.0,388.6L388.5,388.7L388.0,388.8L387.5,388.8L387.0,388.9L386.5,389.0L386.0,389.1L385.5,389.1L385.0,389.2L384.5,389.2L384.0,389.3L383.5,389.3L383.0,389.4L382.5,389.4L382.0,389.5L381.5,389.5L381.0,389.5L380.5,389.5L380.0,389.5L379.5,389.6L379.0,389.6L378.5,389.6L378.0,389.6L377.5,389.6L377.0,389.7L376.5,389.7L376.0,389.7L375.5,389.7L375.0,389.7L374.5,389.7L374.0,389.7L373.5,389.7L373.0,389.8L372.5,389.8L372.0,389.8L371.5,389.8L371.0,389.8L370.5,389.8L370.0,389.8L369.5,389.8L369.0,389.8L368.5,389.8L368.0,389.8L367.5,389.8L367.0,389.8L366.5,389.8L366.0,389.8L365.5,389.8L365.0,389.8L364.5,389.8L364.0,389.7L363.5,389.7L363.0,389.7L362.5,389.6L362.0,389.6L361.5,389.5L361.0,389.5L360.5,389.4L360.0,389.4L359.5,389.3L359.0,389.3L358.5,389.2L358.0,389.2L357.5,389.2L357.0,389.1L356.5,389.1L356.0,389.0L355.5,389.0L355.0,388.9L354.5,388.9L354.0,388.9L353.5,388.8L353.0,388.8L352.5,388.7L352.0,388.7L351.5,388.6L351.0,388.6L350.5,388.5L350.0,388.5L349.5,388.4L349.0,388.4L348.5,388.4L348.0,388.3L347.5,388.3L347.0,388.4L346.5,388.4L346.0,388.5L345.5,388.6L345.0,388.7L344.5,388.8L344.0,388.9L343.5,389.0L343.0,389.1L342.5,389.2L342.0,389.3L341.5,389.4L341.0,389.5L340.5,389.6L340.0,389.7L339.5,389.8L339.0,389.9L338.5,390.0L338.0,390.0L337.5,390.1L337.0,390.2L336.5,390.3L336.0,390.4L335.5,390.5L335.0,390.6L334.5,390.7L334.0,390.7L333.5,390.8L333.0,390.9L332.5,391.0L332.0,391.1L331.5,391.1L331.0,391.2L330.5,391.2L330.0,391.3L329.5,391.3L329.0,391.3L328.5,391.3L328.0,391.3L327.5,391.3L327.0,391.3L326.5,391.3L326.0,391.3L325.5,391.3L325.0,391.3L324.5,391.3L324.0,391.3L323.5,391.3L323.0,391.3L322.5,391.3L322.0,391.3L321.5,391.3L321.0,391.3L320.5,391.3L320.0,391.3L319.5,391.3L319.0,391.3L318.5,391.3L318.0,391.3L317.5,391.3L317.0,391.3L316.5,391.3L316.0,391.3L315.5,391.3L315.0,391.3L314.5,391.3L314.0,391.3L313.5,391.3L313.0,391.3L312.5,391.3L312.0,391.3L311.5,391.3L311.0,391.3L310.5,391.3L310.0,391.3L309.5,391.3L309.0,391.3L308.5,391.3L308.0,391.3L307.5,391.3L307.0,391.3L306.5,391.3L306.0,391.3L305.5,391.2L305.0,391.2L304.5,391.2L304.0,391.2L303.5,391.2L303.0,391.1L302.5,391.1L302.0,391.1L301.5,391.0L301.0,391.0L300.5,391.0L300.0,390.9L299.5,390.9L299.0,390.9L298.5,390.8L298.0,390.8L297.5,390.8L297.0,390.7L296.5,390.7L296.0,390.7L295.5,390.6L295.0,390.6L294.5,390.6L294.0,390.5L293.5,390.5L293.0,390.4L292.5,390.4L292.0,390.4L291.5,390.3L291.0,390.3L290.5,390.2L290.0,390.2L289.5,390.1L289.0,390.1L288.5,390.0L288.0,390.0L287.5,389.9L287.0,389.9L286.5,389.8L286.0,389.7L285.5,389.7L285.0,389.6L284.5,389.6L284.0,389.5L283.5,389.5L283.0,389.4L282.5,389.4L282.0,389.3L281.5,389.3L281.0,389.2L280.5,389.2L280.0,389.1L279.5,389.1L279.0,389.0L278.5,389.0L278.0,388.9L277.5,388.9L277.0,388.9L276.5,388.8L276.0,388.8L275.5,388.7L275.0,388.7L274.5,388.6L274.0,388.6L273.5,388.5L273.0,388.5L272.5,388.5L272.0,388.4L271.5,388.4L271.0,388.3L270.5,388.3L270.0,388.3L269.5,388.2L269.0,388.2L268.5,388.2L268.0,388.1L267.5,388.1L267.0,388.1L266.5,388.1L266.0,388.0L265.5,388.0L265.0,388.0L264.5,388.0L264.0,388.0L263.5,388.1L263.0,388.1L262.5,388.1L262.0,388.1L261.5,388.1L261.0,388.2L260.5,388.2L260.0,388.2L259.5,388.3L259.0,388.3L258.5,388.3L258.0,388.4L257.5,388.4L257.0,388.4L256.5,388.5L256.0,388.5L255.5,388.6L255.0,388.6L254.5,388.6L254.0,388.7L253.5,388.7L253.0,388.7L252.5,388.7L252.0,388.8L251.5,388.8L251.0,388.8L250.5,388.8L250.0,388.9L249.5,388.9L249.0,388.9L248.5,388.9L248.0,388.9L247.5,389.0L247.0,389.0L246.5,389.0L246.0,389.0L245.5,389.0L245.0,389.1L244.5,389.1L244.0,389.1L243.5,389.1L243.0,389.1L242.5,389.2L242.0,389.2L241.5,389.2L241.0,389.2L240.5,389.2L240.0,389.2L239.5,389.2L239.0,389.3L238.5,389.3L238.0,389.3L237.5,389.3L237.0,389.3L236.5,389.3L236.0,389.3L235.5,389.3L235.0,389.3L234.5,389.3L234.0,389.3L233.5,389.3L233.0,389.3L232.5,389.3L232.0,389.3L231.5,389.3L231.0,389.3L230.5,389.3L230.0,389.4L229.5,389.4L229.0,389.4L228.5,389.4L228.0,389.4L227.5,389.4L227.0,389.4L226.5,389.4L226.0,389.4L225.5,389.4L225.0,389.4L224.5,389.4L224.0,389.4L223.5,389.4L223.0,389.4L222.5,389.4L222.0,389.4L221.5,389.4L221.0,389.4L220.5,389.4L220.0,389.4L219.5,389.4L219.0,389.4L218.5,389.4L218.0,389.4L217.5,389.4L217.0,389.4L216.5,389.4L216.0,389.4L215.5,389.5L215.0,389.5L214.5,389.5L214.0,389.5L213.5,389.5L213.0,389.5L212.5,389.5L212.0,389.5L211.5,389.5L211.0,389.5L210.5,389.5L210.0,389.5L209.5,389.5L209.0,389.5L208.5,389.5L208.0,389.5L207.5,389.5L207.0,389.5L206.5,389.5L206.0,389.5L205.5,389.5L205.0,389.5L204.5,389.5L204.0,389.5L203.5,389.5L203.0,389.5L202.5,389.5L202.0,389.5L201.5,389.5L201.0,389.5L200.5,389.5L200.0,389.5L199.5,389.5L199.0,389.5L198.5,389.5L198.0,389.5L197.5,389.5L197.0,389.5L196.5,389.5L196.0,389.5L195.5,389.5L195.0,389.5L194.5,389.5L194.0,389.5L193.5,389.5L193.0,389.6L192.5,389.6L192.0,389.6L191.5,389.6L191.0,389.6L190.5,389.6L190.0,389.6L189.5,389.6L189.0,389.6L188.5,389.6L188.0,389.6L187.5,389.6L187.0,389.6L186.5,389.6L186.0,389.6L185.5,389.6L185.0,389.6L184.5,389.6L184.0,389.6L183.5,389.6L183.0,389.6L182.5,389.6L182.0,389.6L181.5,389.6L181.0,389.6L180.5,389.6L180.0,389.6L179.5,389.6L179.0,389.6L178.5,389.6L178.0,389.6L177.5,389.6L177.0,389.6L176.5,389.6L176.0,389.6L175.5,389.6L175.0,389.6L174.5,389.6L174.0,389.6L173.5,389.6L173.0,389.6L172.5,389.6L172.0,389.6L171.5,389.6L171.0,389.6L170.5,389.6L170.0,389.6L169.5,389.6L169.0,389.6L168.5,389.6L168.0,389.6L167.5,389.6L167.0,389.6L166.5,389.6L166.0,389.6L165.5,389.6L165.0,389.6L164.5,389.6L164.0,389.6L163.5,389.6L163.0,389.6L162.5,389.6L162.0,389.6L161.5,389.6L161.0,389.6L160.5,389.6L160.0,389.6Z" fill="#ff7f0e" stroke="none" shape-rendering="crispEdges"/>
<!-- legend -->
<rect x="171.5" y="517.5" width="576" height="139" fill="#fff" stroke="#000" stroke-width="1" shape-rendering="crispEdges"/>
<rect x="192" y="549" width="102" height="4" fill="#ff7f0e"/>
<rect x="192" y="611" width="102" height="20" fill="#cbcbcb"/>
<rect x="243" y="551" width="1" height="1" fill="#000"/>
<rect x="243" y="621" width="1" height="1" fill="#000"/>
<text class="leg" x="526" y="567" text-anchor="middle">cWB max-likelihood</text>
<text class="leg" x="525.5" y="637.2" text-anchor="middle">cWB-LALInference 90%</text>
<!-- title -->
<text x="793" y="68.8" text-anchor="middle" font-size="52" font-style="italic" letter-spacing="-0.35">GW200209_085452 - Hanford</text>
<!-- y labels -->
<text class="lab" transform="translate(138.7,218.8) scale(1.1,0.99)" text-anchor="end">2</text>
<text class="lab" transform="translate(139.2,404.4) scale(1.1,0.985)" text-anchor="end">0</text>
<text class="lab" transform="translate(138.7,590) scale(1.1,0.99)" text-anchor="end">2</text>
<text class="lab" transform="translate(115.8,593.6) scale(1.06,1)" text-anchor="end" stroke="#000" stroke-width="0.4">−</text>
<!-- x labels -->
<text class="lab" x="159.5" y="717.7" text-anchor="middle">0.05</text>
<text class="lab" x="479.5" y="717.7" text-anchor="middle">0.1</text>
<text class="lab" x="798.5" y="717.7" text-anchor="middle">0.15</text>
<text class="lab" x="1118.5" y="717.7" text-anchor="middle">0.2</text>
<text class="lab" x="1437.5" y="717.7" text-anchor="middle">0.25</text>
<text class="lab" x="794.5" y="776" text-anchor="middle">Time-1265273710 (s)</text>
<!-- y title -->
<g transform="translate(65.8,433) rotate(-90)">
<text transform="scale(1.13,1)" x="0" y="0" font-size="44" stroke="#000" stroke-width="0.35">σ</text>
<text transform="translate(28,13.2) scale(1,1.05)" x="0" y="0" font-size="30.2">noise</text>
</g>
</svg>
</body></html>
